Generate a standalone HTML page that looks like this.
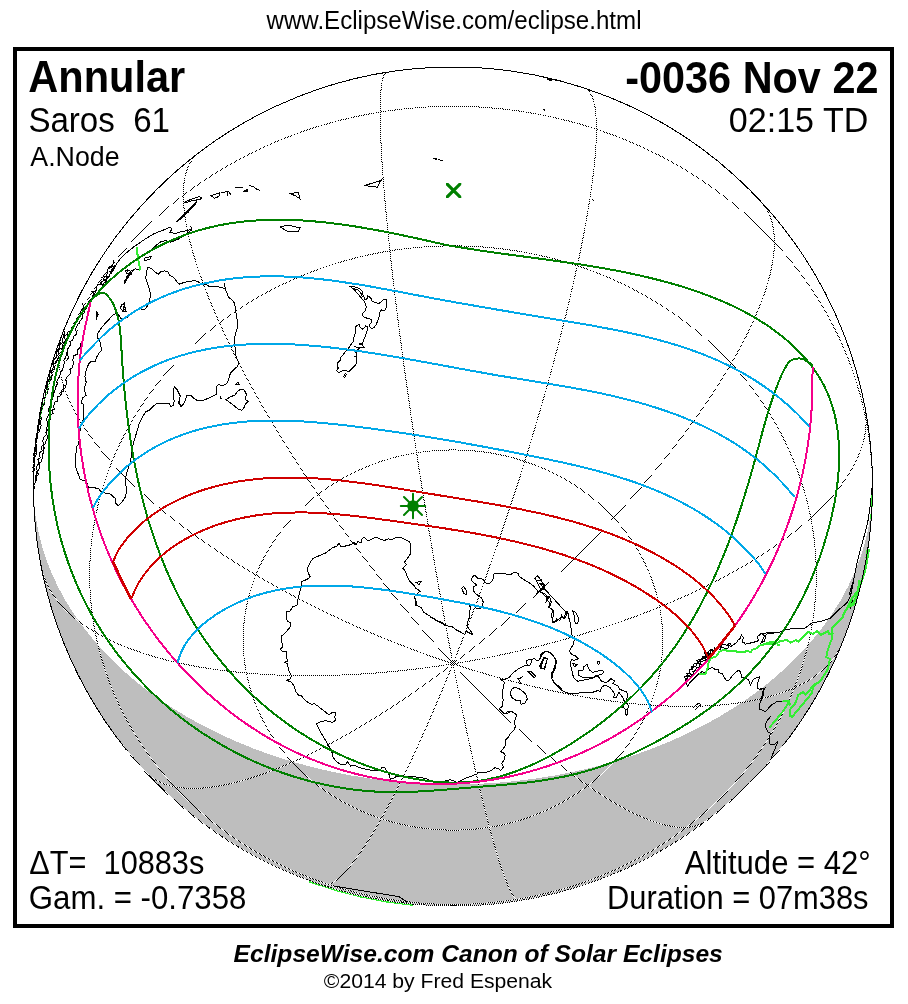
<!DOCTYPE html>
<html><head><meta charset="utf-8"><title>Annular Solar Eclipse -0036 Nov 22</title>
<style>html,body{margin:0;padding:0;background:#fff}body{width:908px;height:1004px;overflow:hidden;font-family:"Liberation Sans",sans-serif}svg{display:block}</style>
</head><body>
<svg width="908" height="1004" viewBox="0 0 908 1004">
<rect x="0" y="0" width="908" height="1004" fill="#fff"/>
<path d="M33.5 486.5 A419.5 419.5 0 0 0 872.5 486.5 A419.5 298.0 0 0 1 33.5 486.5 Z" fill="#bebebe" shape-rendering="crispEdges"/>
<defs><pattern id="chk" width="2" height="2" patternUnits="userSpaceOnUse"><rect x="0" y="0" width="1" height="1" fill="#fff"/><rect x="1" y="1" width="1" height="1" fill="#fff"/></pattern><mask id="m" maskUnits="userSpaceOnUse" x="0" y="0" width="908" height="1004"><rect x="0" y="0" width="908" height="1004" fill="url(#chk)"/></mask></defs>
<g fill="none" stroke="#fff" stroke-width="1" shape-rendering="crispEdges"><path d="M453.0 663.8 L451.7 657.2 L450.5 650.6 L449.2 643.9 L447.9 637.2 L446.7 630.5 L445.4 623.7 L444.1 616.8 L442.9 610.0 L441.6 603.0 L440.4 596.1 L439.1 589.1 L437.9 582.1 L436.6 575.0 L435.4 567.9 L434.1 560.8 L432.9 553.7 L431.7 546.6 L430.5 539.4 L429.3 532.2 L428.1 525.0 L426.9 517.8 L425.7 510.6 L424.5 503.4 L423.4 496.2 L422.2 488.9 L421.1 481.7 L419.9 474.5 L418.8 467.3 L417.7 460.0 L416.6 452.8 L415.5 445.6 L414.4 438.4 L413.3 431.3 L412.3 424.1 L411.2 417.0 L410.2 409.9 L409.2 402.8 L408.2 395.7 L407.2 388.6 L406.2 381.6 L405.2 374.7 L404.3 367.7 L403.3 360.8 L402.4 353.9 L401.5 347.1 L400.6 340.3 L399.7 333.6 L398.9 326.9 L398.0 320.2 L397.2 313.6 L396.4 307.1 L395.6 300.6 L394.8 294.2 L394.1 287.8 L393.3 281.5 L392.6 275.2 L391.9 269.0 L391.2 262.9 L390.6 256.9 L389.9 250.9 L389.3 245.0 L388.7 239.1 L388.1 233.4 L387.5 227.7 L387.0 222.1 L386.5 216.6 L385.9 211.1 L385.5 205.8 L385.0 200.5 L384.5 195.3 L384.1 190.2 L383.7 185.2 L383.3 180.3 L383.0 175.5 L382.6 170.7 L382.3 166.1 L382.0 161.6 L381.7 157.1 L381.5 152.8 L381.3 148.6 L381.1 144.4 L380.9 140.4 L380.7 136.5 L380.6 132.7 L380.4 129.0 L380.3 125.4 L380.3 121.9 L380.2 118.5 L380.2 115.2 L380.2 112.1 L380.2 109.0 L380.2 106.1 L380.3 103.3 L380.3 100.6 L380.4 98.1 L380.6 95.6 L380.7 93.3 L380.9 91.0 L381.1 89.0 L381.3 87.0 L381.5 85.1 L381.7 83.4 L382.0 81.8 L382.3 80.3 L382.6 79.0 L383.0 77.7 L383.3 76.6 L383.7 75.6 L384.1 74.8 L384.5 74.0 L385.0 73.4 L385.5 72.9 L385.9 72.6 L386.5 72.3"/><path d="M453.0 663.8 L455.5 657.5 L458.0 651.2 L460.5 644.8 L463.0 638.4 L465.5 632.0 L468.0 625.5 L470.5 618.9 L473.0 612.3 L475.4 605.7 L477.9 599.1 L480.4 592.4 L482.8 585.6 L485.3 578.9 L487.7 572.1 L490.1 565.3 L492.5 558.4 L494.9 551.6 L497.3 544.7 L499.7 537.8 L502.1 530.9 L504.4 524.0 L506.7 517.0 L509.1 510.1 L511.4 503.1 L513.6 496.2 L515.9 489.2 L518.1 482.3 L520.4 475.3 L522.6 468.4 L524.7 461.4 L526.9 454.5 L529.0 447.5 L531.1 440.6 L533.2 433.7 L535.3 426.8 L537.3 419.9 L539.3 413.1 L541.3 406.2 L543.3 399.4 L545.2 392.7 L547.1 385.9 L549.0 379.2 L550.9 372.5 L552.7 365.9 L554.5 359.2 L556.2 352.7 L557.9 346.1 L559.6 339.6 L561.3 333.2 L562.9 326.8 L564.5 320.4 L566.1 314.1 L567.6 307.9 L569.1 301.7 L570.5 295.5 L571.9 289.5 L573.3 283.4 L574.7 277.5 L576.0 271.6 L577.3 265.7 L578.5 260.0 L579.7 254.3 L580.8 248.7 L582.0 243.1 L583.0 237.6 L584.1 232.2 L585.1 226.9 L586.0 221.7 L586.9 216.5 L587.8 211.4 L588.7 206.4 L589.5 201.5 L590.2 196.7 L590.9 191.9 L591.6 187.3 L592.2 182.7 L592.8 178.3 L593.3 173.9 L593.8 169.6 L594.3 165.4 L594.7 161.4 L595.1 157.4 L595.4 153.5 L595.7 149.7 L595.9 146.0 L596.1 142.5 L596.3 139.0 L596.4 135.6 L596.5 132.4 L596.5 129.2 L596.5 126.2 L596.4 123.3 L596.3 120.4 L596.1 117.7 L595.9 115.1 L595.7 112.7 L595.4 110.3 L595.1 108.0 L594.7 105.9 L594.3 103.9 L593.8 102.0 L593.3 100.2 L592.8 98.5 L592.2 97.0 L591.6 95.5 L590.9 94.2 L590.2 93.0 L589.5 91.9 L588.7 91.0 L587.8 90.1 L586.9 89.4 L586.0 88.8 L585.1 88.4"/><path d="M453.0 663.8 L458.6 659.5 L464.2 655.2 L469.8 650.8 L475.4 646.3 L481.0 641.8 L486.6 637.3 L492.2 632.7 L497.7 628.1 L503.3 623.4 L508.8 618.7 L514.3 613.9 L519.8 609.1 L525.3 604.3 L530.7 599.4 L536.2 594.5 L541.6 589.6 L547.0 584.6 L552.3 579.6 L557.6 574.6 L562.9 569.5 L568.2 564.4 L573.4 559.3 L578.6 554.2 L583.7 549.1 L588.8 543.9 L593.9 538.7 L598.9 533.5 L603.9 528.3 L608.8 523.1 L613.7 517.8 L618.5 512.6 L623.3 507.3 L628.0 502.1 L632.7 496.8 L637.3 491.6 L641.9 486.3 L646.4 481.0 L650.8 475.7 L655.2 470.5 L659.6 465.2 L663.8 460.0 L668.0 454.7 L672.2 449.5 L676.2 444.3 L680.2 439.1 L684.2 433.9 L688.0 428.7 L691.8 423.5 L695.5 418.4 L699.2 413.2 L702.7 408.1 L706.2 403.1 L709.6 398.0 L713.0 393.0 L716.2 388.0 L719.4 383.0 L722.5 378.1 L725.5 373.2 L728.5 368.3 L731.3 363.5 L734.1 358.7 L736.7 354.0 L739.3 349.2 L741.8 344.6 L744.2 339.9 L746.6 335.4 L748.8 330.8 L751.0 326.3 L753.0 321.9 L755.0 317.5 L756.8 313.1 L758.6 308.9 L760.3 304.6 L761.9 300.4 L763.4 296.3 L764.8 292.3 L766.1 288.3 L767.3 284.3 L768.5 280.4 L769.5 276.6 L770.4 272.9 L771.2 269.2 L772.0 265.5 L772.6 262.0 L773.1 258.5 L773.6 255.1 L773.9 251.7 L774.2 248.5 L774.3 245.2 L774.4 242.1 L774.3 239.1 L774.2 236.1 L773.9 233.2 L773.6 230.3 L773.1 227.6 L772.6 224.9 L772.0 222.3 L771.2 219.8 L770.4 217.4 L769.5 215.0 L768.5 212.8 L767.3 210.6 L766.1 208.5 L764.8 206.5 L763.4 204.6 L761.9 202.7"/><path d="M453.0 663.8 L460.2 662.6 L467.4 661.4 L474.6 660.1 L481.8 658.8 L489.0 657.4 L496.2 655.9 L503.3 654.4 L510.5 652.9 L517.6 651.3 L524.7 649.6 L531.8 647.9 L538.9 646.2 L545.9 644.4 L552.9 642.6 L559.9 640.7 L566.9 638.7 L573.8 636.7 L580.7 634.7 L587.5 632.6 L594.3 630.5 L601.1 628.4 L607.8 626.1 L614.4 623.9 L621.0 621.6 L627.6 619.3 L634.1 616.9 L640.6 614.5 L647.0 612.0 L653.3 609.6 L659.6 607.0 L665.8 604.5 L671.9 601.9 L678.0 599.2 L684.0 596.6 L690.0 593.9 L695.8 591.1 L701.6 588.4 L707.3 585.6 L713.0 582.7 L718.6 579.9 L724.0 577.0 L729.4 574.1 L734.8 571.1 L740.0 568.2 L745.1 565.2 L750.2 562.2 L755.1 559.1 L760.0 556.1 L764.8 553.0 L769.5 549.9 L774.1 546.8 L778.5 543.6 L782.9 540.5 L787.2 537.3 L791.4 534.1 L795.5 530.9 L799.5 527.7 L803.4 524.5 L807.1 521.2 L810.8 518.0 L814.3 514.7 L817.8 511.4 L821.1 508.2 L824.3 504.9 L827.4 501.6 L830.4 498.3 L833.3 495.0 L836.0 491.7 L838.7 488.4 L841.2 485.1 L843.6 481.8 L845.9 478.5 L848.1 475.2 L850.1 471.9 L852.0 468.6 L853.9 465.3 L855.5 462.1 L857.1 458.8 L858.5 455.5 L859.9 452.3 L861.0 449.0 L862.1 445.8 L863.0 442.6 L863.9 439.4 L864.6 436.2 L865.1 433.0 L865.6 429.8 L865.9 426.7 L866.1 423.6 L866.1 420.5 L866.1 417.4 L865.9 414.3 L865.6 411.3 L865.1 408.3"/><path d="M453.0 663.8 L459.9 666.0 L466.8 668.2 L473.6 670.4 L480.5 672.4 L487.4 674.4 L494.2 676.4 L501.0 678.3 L507.9 680.2 L514.7 681.9 L521.5 683.7 L528.2 685.3 L535.0 686.9 L541.7 688.5 L548.4 690.0 L555.0 691.4 L561.7 692.8 L568.3 694.1 L574.8 695.3 L581.3 696.5 L587.8 697.6 L594.3 698.6 L600.7 699.6 L607.0 700.5 L613.3 701.4 L619.6 702.1 L625.8 702.8 L632.0 703.5 L638.1 704.1 L644.1 704.6 L650.1 705.1 L656.0 705.4 L661.9 705.8 L667.7 706.0 L673.4 706.2 L679.1 706.3 L684.7 706.4 L690.2 706.3 L695.7 706.3 L701.1 706.1 L706.4 705.9 L711.6 705.6 L716.8 705.3 L721.8 704.8 L726.8 704.4 L731.7 703.8 L736.6 703.2 L741.3 702.5 L745.9 701.8 L750.5 701.0 L755.0 700.1 L759.4 699.1 L763.6 698.1 L767.8 697.0 L771.9 695.9 L775.9 694.7 L779.8 693.4 L783.6 692.1 L787.3 690.7 L790.9 689.3 L794.4 687.8 L797.8 686.2 L801.1 684.5 L804.2 682.8 L807.3 681.1 L810.3 679.3 L813.1 677.4 L815.9 675.5 L818.5 673.5 L821.0 671.4 L823.4 669.3 L825.7 667.2 L827.9 665.0 L830.0 662.7 L831.9 660.4 L833.8 658.0 L835.5 655.6 L837.1 653.1 L838.6 650.6 L840.0 648.0 L841.2 645.3"/><path d="M453.0 663.8 L457.7 668.8 L462.4 673.8 L467.1 678.8 L471.8 683.7 L476.5 688.5 L481.2 693.3 L485.9 698.0 L490.5 702.6 L495.2 707.2 L499.8 711.7 L504.5 716.1 L509.1 720.5 L513.7 724.8 L518.2 729.0 L522.8 733.1 L527.3 737.2 L531.8 741.2 L536.3 745.1 L540.8 749.0 L545.2 752.7 L549.6 756.4 L554.0 760.0 L558.4 763.5 L562.7 766.9 L567.0 770.3 L571.2 773.5 L575.4 776.7 L579.6 779.8 L583.7 782.8 L587.8 785.7 L591.9 788.5 L595.9 791.2 L599.9 793.8 L603.8 796.3 L607.7 798.8 L611.5 801.1 L615.3 803.4 L619.0 805.5 L622.7 807.6 L626.3 809.5 L629.9 811.4 L633.4 813.1 L636.9 814.8 L640.3 816.3 L643.7 817.8 L647.0 819.2 L650.2 820.4 L653.4 821.6 L656.5 822.6 L659.6 823.6 L662.6 824.4 L665.5 825.2 L668.4 825.8 L671.2 826.3 L673.9 826.8 L676.5 827.1 L679.1 827.3 L681.7 827.4 L684.1 827.5 L686.5 827.4 L688.8 827.2 L691.1 826.9 L693.3 826.5 L695.4 826.0 L697.4 825.4 L699.3 824.7 L701.2 823.9 L703.0 823.0 L704.7 821.9 L706.4 820.8"/><path d="M453.0 663.8 L454.3 670.3 L455.5 676.7 L456.8 683.1 L458.1 689.5 L459.3 695.7 L460.6 702.0 L461.9 708.1 L463.1 714.2 L464.4 720.2 L465.6 726.1 L466.9 732.0 L468.1 737.8 L469.4 743.5 L470.6 749.1 L471.9 754.7 L473.1 760.1 L474.3 765.5 L475.5 770.8 L476.7 776.0 L477.9 781.2 L479.1 786.2 L480.3 791.1 L481.5 796.0 L482.6 800.8 L483.8 805.4 L484.9 810.0 L486.1 814.4 L487.2 818.8 L488.3 823.1 L489.4 827.2 L490.5 831.3 L491.6 835.3 L492.7 839.1 L493.7 842.9 L494.8 846.5 L495.8 850.0 L496.8 853.4 L497.8 856.7 L498.8 859.9 L499.8 863.0 L500.8 865.9 L501.7 868.8 L502.7 871.5 L503.6 874.1 L504.5 876.6 L505.4 879.0 L506.3 881.2 L507.1 883.4 L508.0 885.4 L508.8 887.3 L509.6 889.1 L510.4 890.7 L511.2 892.2 L511.9 893.6 L512.7 894.9 L513.4 896.0 L514.1 897.1 L514.8 898.0 L515.4 898.8 L516.1 899.4 L516.7 899.9 L517.3 900.3 L517.9 900.6 L518.5 900.7 L519.0 900.8"/><path d="M453.0 663.8 L450.5 670.0 L448.0 676.1 L445.5 682.2 L443.0 688.3 L440.5 694.3 L438.0 700.2 L435.5 706.0 L433.0 711.8 L430.6 717.5 L428.1 723.1 L425.6 728.7 L423.2 734.2 L420.7 739.6 L418.3 745.0 L415.9 750.2 L413.5 755.4 L411.1 760.5 L408.7 765.5 L406.3 770.4 L403.9 775.3 L401.6 780.0 L399.3 784.7 L396.9 789.3 L394.6 793.8 L392.4 798.2 L390.1 802.5 L387.9 806.7 L385.6 810.8 L383.4 814.8 L381.3 818.7 L379.1 822.5 L377.0 826.2 L374.9 829.8 L372.8 833.3 L370.7 836.6 L368.7 839.9 L366.7 843.1 L364.7 846.2 L362.7 849.1 L360.8 852.0 L358.9 854.7 L357.0 857.3 L355.1 859.8 L353.3 862.2 L351.5 864.5 L349.8 866.7 L348.1 868.7 L346.4 870.6 L344.7 872.4 L343.1 874.1 L341.5 875.7 L339.9 877.2 L338.4 878.5 L336.9 879.7 L335.5 880.8 L334.1 881.8 L332.7 882.7 L331.3 883.4 L330.0 884.0 L328.7 884.5 L327.5 884.9 L326.3 885.2 L325.2 885.3 L324.0 885.3 L323.0 885.2 L321.9 885.0"/><path d="M453.0 663.8 L447.4 668.0 L441.8 672.2 L436.2 676.3 L430.6 680.4 L425.0 684.4 L419.4 688.4 L413.8 692.2 L408.3 696.1 L402.7 699.8 L397.2 703.5 L391.7 707.2 L386.2 710.7 L380.7 714.2 L375.3 717.6 L369.8 721.0 L364.4 724.3 L359.0 727.5 L353.7 730.6 L348.4 733.7 L343.1 736.7 L337.8 739.6 L332.6 742.4 L327.4 745.2 L322.3 747.9 L317.2 750.5 L312.1 753.0 L307.1 755.4 L302.1 757.8 L297.2 760.0 L292.3 762.2 L287.5 764.3 L282.7 766.4 L278.0 768.3 L273.3 770.1 L268.7 771.9 L264.1 773.6 L259.6 775.2 L255.2 776.7 L250.8 778.1 L246.4 779.4 L242.2 780.6 L238.0 781.8 L233.8 782.8 L229.8 783.8 L225.8 784.7 L221.8 785.5 L218.0 786.1 L214.2 786.7 L210.5 787.3 L206.8 787.7 L203.3 788.0 L199.8 788.2 L196.4 788.4 L193.0 788.4 L189.8 788.4 L186.6 788.2 L183.5 788.0 L180.5 787.7 L177.5 787.3 L174.7 786.8 L171.9 786.2 L169.3 785.5 L166.7 784.7 L164.2 783.9 L161.8 782.9 L159.4 781.9 L157.2 780.7 L155.0 779.5 L153.0 778.2 L151.0 776.8 L149.2 775.3 L147.4 773.7 L145.7 772.0"/><path d="M453.0 663.8 L445.8 664.9 L438.6 666.0 L431.4 667.0 L424.2 668.0 L417.0 668.9 L409.8 669.7 L402.7 670.5 L395.5 671.3 L388.4 671.9 L381.3 672.6 L374.2 673.1 L367.1 673.6 L360.1 674.1 L353.1 674.5 L346.1 674.8 L339.1 675.1 L332.2 675.3 L325.3 675.5 L318.5 675.6 L311.7 675.7 L304.9 675.7 L298.2 675.6 L291.6 675.5 L285.0 675.3 L278.4 675.1 L271.9 674.8 L265.4 674.4 L259.0 674.0 L252.7 673.6 L246.4 673.0 L240.2 672.5 L234.1 671.8 L228.0 671.1 L222.0 670.4 L216.0 669.6 L210.2 668.7 L204.4 667.8 L198.7 666.9 L193.0 665.8 L187.4 664.7 L182.0 663.6 L176.6 662.4 L171.2 661.2 L166.0 659.9 L160.9 658.5 L155.8 657.1 L150.9 655.7 L146.0 654.2 L141.2 652.6 L136.5 651.0 L131.9 649.4 L127.5 647.7 L123.1 645.9 L118.8 644.1 L114.6 642.3 L110.5 640.4 L106.5 638.4 L102.6 636.4 L98.9 634.4 L95.2 632.3 L91.7 630.2 L88.2 628.0 L84.9 625.8 L81.7 623.6 L78.6 621.3 L75.6 618.9 L72.7 616.5 L70.0 614.1 L67.3 611.7 L64.8 609.2 L62.4 606.6 L60.1 604.1 L57.9 601.5 L55.9 598.8 L54.0 596.2 L52.1 593.4 L50.5 590.7 L48.9 587.9 L47.5 585.1 L46.1 582.3 L45.0 579.4 L43.9 576.6 L43.0 573.6 L42.1 570.7 L41.4 567.7"/><path d="M453.0 663.8 L446.1 661.5 L439.2 659.1 L432.4 656.7 L425.5 654.3 L418.6 651.8 L411.8 649.2 L405.0 646.6 L398.1 644.0 L391.3 641.3 L384.5 638.5 L377.8 635.7 L371.0 632.9 L364.3 630.0 L357.6 627.1 L351.0 624.1 L344.3 621.1 L337.7 618.0 L331.2 614.9 L324.7 611.8 L318.2 608.6 L311.7 605.4 L305.3 602.2 L299.0 598.9 L292.7 595.6 L286.4 592.2 L280.2 588.8 L274.0 585.4 L267.9 582.0 L261.9 578.5 L255.9 575.0 L250.0 571.5 L244.1 567.9 L238.3 564.4 L232.6 560.8 L226.9 557.1 L221.3 553.5 L215.8 549.8 L210.3 546.1 L204.9 542.4 L199.6 538.7 L194.4 535.0 L189.2 531.2 L184.2 527.5 L179.2 523.7 L174.3 519.9 L169.4 516.1 L164.7 512.3 L160.1 508.5 L155.5 504.7 L151.0 500.8 L146.6 497.0 L142.4 493.2 L138.2 489.3 L134.1 485.5 L130.1 481.7 L126.2 477.8 L122.4 474.0 L118.7 470.2 L115.1 466.3 L111.6 462.5 L108.2 458.7 L104.9 454.9 L101.8 451.1 L98.7 447.3 L95.7 443.6 L92.9 439.8 L90.1 436.1 L87.5 432.3 L85.0 428.6 L82.6 424.9 L80.3 421.3 L78.1 417.6 L76.0 414.0 L74.1 410.4 L72.2 406.8 L70.5 403.2 L68.9 399.7 L67.4 396.2 L66.0 392.7 L64.8 389.2 L63.7 385.8 L62.6 382.4 L61.7 379.0 L61.0 375.7 L60.3 372.4 L59.8 369.1 L59.3 365.9 L59.0 362.7 L58.9 359.6 L58.8 356.5 L58.9 353.4 L59.0 350.4 L59.3 347.4 L59.8 344.4 L60.3 341.5 L61.0 338.6 L61.7 335.8 L62.6 333.1 L63.7 330.3"/><path d="M453.0 663.8 L448.3 658.7 L443.6 653.5 L438.9 648.3 L434.2 643.0 L429.5 637.7 L424.8 632.4 L420.1 627.0 L415.5 621.5 L410.8 616.0 L406.2 610.5 L401.5 605.0 L396.9 599.4 L392.3 593.7 L387.8 588.1 L383.2 582.4 L378.7 576.6 L374.2 570.9 L369.7 565.1 L365.2 559.3 L360.8 553.5 L356.4 547.6 L352.0 541.8 L347.6 535.9 L343.3 530.0 L339.0 524.1 L334.8 518.2 L330.6 512.2 L326.4 506.3 L322.3 500.4 L318.2 494.4 L314.1 488.5 L310.1 482.5 L306.1 476.6 L302.2 470.6 L298.3 464.7 L294.5 458.7 L290.7 452.8 L287.0 446.9 L283.3 441.0 L279.7 435.1 L276.1 429.2 L272.6 423.4 L269.1 417.5 L265.7 411.7 L262.3 405.9 L259.0 400.1 L255.8 394.4 L252.6 388.7 L249.5 383.0 L246.4 377.4 L243.4 371.7 L240.5 366.1 L237.6 360.6 L234.8 355.1 L232.1 349.6 L229.5 344.2 L226.9 338.8 L224.3 333.5 L221.9 328.2 L219.5 322.9 L217.2 317.7 L214.9 312.6 L212.7 307.5 L210.6 302.4 L208.6 297.5 L206.7 292.5 L204.8 287.7 L203.0 282.9 L201.3 278.1 L199.6 273.5 L198.0 268.8 L196.5 264.3 L195.1 259.8 L193.8 255.4 L192.5 251.1 L191.4 246.8 L190.3 242.6 L189.2 238.5 L188.3 234.4 L187.4 230.5 L186.7 226.6 L186.0 222.8 L185.4 219.0 L184.8 215.4 L184.4 211.8 L184.0 208.3 L183.7 204.9 L183.5 201.6 L183.4 198.4 L183.4 195.3 L183.4 192.2 L183.5 189.2 L183.7 186.4 L184.0 183.6 L184.4 180.9 L184.8 178.3 L185.4 175.8 L186.0 173.4 L186.7 171.1 L187.4 168.9 L188.3 166.8 L189.2 164.8 L190.3 162.8 L191.4 161.0 L192.5 159.3 L193.8 157.7 L195.1 156.1 L196.5 154.7 L198.0 153.4"/><path d="M33.5 486.5 L33.6 479.9 L33.8 473.2 L34.1 466.6 L34.5 460.0 L35.1 453.4 L35.8 446.8 L36.6 440.2 L37.6 433.6 L38.7 427.0 L39.9 420.5 L41.2 414.0 L42.7 407.5 L44.3 401.0 L46.0 394.5 L47.8 388.1 L49.8 381.7 L51.8 375.3 L54.0 369.0 L56.4 362.7 L58.8 356.5 L61.4 350.2 L64.0 344.1 L66.8 337.9 L69.8 331.9 L72.8 325.8 L76.0 319.8 L79.2 313.9 L82.6 308.0 L86.1 302.2 L89.7 296.4 L93.4 290.7 L97.2 285.0 L101.2 279.4 L105.2 273.9 L109.4 268.4 L113.6 263.0 L118.0 257.7 L122.4 252.4 L127.0 247.2 L131.6 242.1 L136.4 237.1 L141.3 232.1 L146.2 227.2 L151.2 222.4 L156.4 217.7 L161.6 213.0 L166.9 208.4 L172.3 204.0 L177.8 199.6 L183.4 195.3 L189.0 191.0 L194.7 186.9 L200.5 182.9 L206.4 178.9 L212.4 175.1 L218.4 171.3 L224.5 167.6 L230.7 164.1 L236.9 160.6 L243.3 157.2 L249.6 154.0 L256.1 150.8 L262.6 147.7 L269.1 144.8 L275.7 141.9 L282.4 139.2 L289.1 136.5 L295.9 134.0 L302.7 131.6 L309.5 129.2 L316.4 127.0 L323.4 124.9 L330.4 122.9 L337.4 121.0 L344.4 119.3 L351.5 117.6 L358.6 116.0 L365.8 114.6 L373.0 113.3 L380.2 112.1 L387.4 111.0 L394.6 110.0 L401.9 109.1 L409.2 108.4 L416.4 107.8 L423.7 107.2 L431.0 106.8 L438.4 106.5 L445.7 106.4 L453.0 106.3 L460.3 106.4 L467.6 106.5 L475.0 106.8 L482.3 107.2 L489.6 107.8 L496.8 108.4 L504.1 109.1 L511.4 110.0 L518.6 111.0 L525.8 112.1 L533.0 113.3 L540.2 114.6 L547.4 116.0 L554.5 117.6 L561.6 119.3 L568.6 121.0 L575.6 122.9 L582.6 124.9 L589.6 127.0 L596.5 129.2 L603.3 131.6 L610.1 134.0 L616.9 136.5 L623.6 139.2 L630.3 141.9 L636.9 144.8 L643.4 147.7 L649.9 150.8 L656.4 154.0 L662.8 157.2 L669.1 160.6 L675.3 164.1 L681.5 167.6 L687.6 171.3 L693.6 175.1 L699.6 178.9 L705.5 182.9 L711.3 186.9 L717.0 191.0 L722.6 195.3 L728.2 199.6 L733.7 204.0 L739.1 208.4 L744.4 213.0 L749.6 217.7 L754.8 222.4 L759.8 227.2 L764.7 232.1 L769.6 237.1 L774.4 242.1 L779.0 247.2 L783.6 252.4 L788.0 257.7 L792.4 263.0 L796.6 268.4 L800.8 273.9 L804.8 279.4 L808.8 285.0 L812.6 290.7 L816.3 296.4 L819.9 302.2 L823.4 308.0 L826.8 313.9 L830.0 319.8 L833.2 325.8 L836.2 331.9 L839.2 337.9 L842.0 344.1 L844.6 350.2 L847.2 356.5 L849.6 362.7 L852.0 369.0 L854.2 375.3 L856.2 381.7 L858.2 388.1 L860.0 394.5 L861.7 401.0 L863.3 407.5 L864.8 414.0 L866.1 420.5 L867.3 427.0 L868.4 433.6 L869.4 440.2 L870.2 446.8 L870.9 453.4 L871.5 460.0 L871.9 466.6 L872.2 473.2 L872.4 479.9 L872.5 486.5"/><path d="M453.0 904.4 L446.7 904.4 L440.3 904.2 L434.0 904.0 L427.7 903.6 L421.3 903.2 L415.0 902.6 L408.7 901.9 L402.4 901.2 L396.2 900.3 L389.9 899.4 L383.7 898.4 L377.5 897.2 L371.3 896.0 L365.1 894.6 L359.0 893.2 L352.9 891.6 L346.8 890.0 L340.7 888.3 L334.7 886.5 L328.7 884.5 L322.8 882.5 L316.9 880.4 L311.0 878.2 L305.2 875.9 L299.5 873.6 L293.7 871.1 L288.1 868.5 L282.4 865.9 L276.9 863.1 L271.4 860.3 L265.9 857.4 L260.5 854.4 L255.1 851.3 L249.8 848.1 L244.6 844.9 L239.5 841.5 L234.4 838.1 L229.3 834.6 L224.4 831.0 L219.5 827.4 L214.7 823.6 L209.9 819.8 L205.2 815.9 L200.6 812.0 L196.1 808.0 L191.7 803.9 L187.3 799.7 L183.0 795.5 L178.8 791.2 L174.7 786.8 L170.7 782.4 L166.7 777.9 L162.9 773.3 L159.1 768.7 L155.4 764.0 L151.8 759.3 L148.3 754.5 L144.9 749.6 L141.6 744.7 L138.4 739.8 L135.3 734.8 L132.2 729.7 L129.3 724.6 L126.5 719.5 L123.7 714.3 L121.1 709.1 L118.6 703.8 L116.2 698.5 L113.8 693.1 L111.6 687.8 L109.5 682.3 L107.5 676.9 L105.6 671.4 L103.8 665.9 L102.1 660.4 L100.5 654.8 L99.0 649.2 L97.6 643.6 L96.4 638.0 L95.2 632.3 L94.2 626.7 L93.2 621.0 L92.4 615.3 L91.7 609.6 L91.1 603.8 L90.6 598.1 L90.2 592.4 L89.9 586.6 L89.8 580.9 L89.7 575.1 L89.8 569.4 L89.9 563.7 L90.2 557.9 L90.6 552.2 L91.1 546.4 L91.7 540.7 L92.4 535.0 L93.2 529.3 L94.2 523.6 L95.2 518.0 L96.4 512.3 L97.6 506.7 L99.0 501.1 L100.5 495.5 L102.1 489.9 L103.8 484.4 L105.6 478.9 L107.5 473.4 L109.5 467.9 L111.6 462.5 L113.8 457.1 L116.2 451.8 L118.6 446.5 L121.1 441.2 L123.7 436.0 L126.5 430.8 L129.3 425.7 L132.2 420.6 L135.3 415.5 L138.4 410.5 L141.6 405.6 L144.9 400.7 L148.3 395.8 L151.8 391.0 L155.4 386.3 L159.1 381.6 L162.9 377.0 L166.7 372.4 L170.7 367.9 L174.7 363.5 L178.8 359.1 L183.0 354.8 L187.3 350.6 L191.7 346.4 L196.1 342.3 L200.6 338.3 L205.2 334.3 L209.9 330.5 L214.7 326.6 L219.5 322.9 L224.4 319.3 L229.3 315.7 L234.4 312.2 L239.5 308.8 L244.6 305.4 L249.8 302.2 L255.1 299.0 L260.5 295.9 L265.9 292.9 L271.4 290.0 L276.9 287.2 L282.4 284.4 L288.1 281.8 L293.7 279.2 L299.5 276.7 L305.2 274.4 L311.0 272.1 L316.9 269.9 L322.8 267.8 L328.7 265.7 L334.7 263.8 L340.7 262.0 L346.8 260.3 L352.9 258.6 L359.0 257.1 L365.1 255.7 L371.3 254.3 L377.5 253.1 L383.7 251.9 L389.9 250.9 L396.2 249.9 L402.4 249.1 L408.7 248.3 L415.0 247.7 L421.3 247.1 L427.7 246.7 L434.0 246.3 L440.3 246.1 L446.7 245.9 L453.0 245.9 L459.3 245.9 L465.7 246.1 L472.0 246.3 L478.3 246.7 L484.7 247.1 L491.0 247.7 L497.3 248.3 L503.6 249.1 L509.8 249.9 L516.1 250.9 L522.3 251.9 L528.5 253.1 L534.7 254.3 L540.9 255.7 L547.0 257.1 L553.1 258.6 L559.2 260.3 L565.3 262.0 L571.3 263.8 L577.3 265.7 L583.2 267.8 L589.1 269.9 L595.0 272.1 L600.8 274.4 L606.5 276.7 L612.3 279.2 L617.9 281.8 L623.6 284.4 L629.1 287.2 L634.6 290.0 L640.1 292.9 L645.5 295.9 L650.9 299.0 L656.2 302.2 L661.4 305.4 L666.5 308.8 L671.6 312.2 L676.7 315.7 L681.6 319.3 L686.5 322.9 L691.3 326.6 L696.1 330.5 L700.8 334.3 L705.4 338.3 L709.9 342.3 L714.3 346.4 L718.7 350.6 L723.0 354.8 L727.2 359.1 L731.3 363.5 L735.3 367.9 L739.3 372.4 L743.1 377.0 L746.9 381.6 L750.6 386.3 L754.2 391.0 L757.7 395.8 L761.1 400.7 L764.4 405.6 L767.6 410.5 L770.7 415.5 L773.8 420.6 L776.7 425.7 L779.5 430.8 L782.3 436.0 L784.9 441.2 L787.4 446.5 L789.8 451.8 L792.2 457.1 L794.4 462.5 L796.5 467.9 L798.5 473.4 L800.4 478.9 L802.2 484.4 L803.9 489.9 L805.5 495.5 L807.0 501.1 L808.4 506.7 L809.6 512.3 L810.8 518.0 L811.8 523.6 L812.8 529.3 L813.6 535.0 L814.3 540.7 L814.9 546.4 L815.4 552.2 L815.8 557.9 L816.1 563.7 L816.2 569.4 L816.3 575.1 L816.2 580.9 L816.1 586.6 L815.8 592.4 L815.4 598.1 L814.9 603.8 L814.3 609.6 L813.6 615.3 L812.8 621.0 L811.8 626.7 L810.8 632.3 L809.6 638.0 L808.4 643.6 L807.0 649.2 L805.5 654.8 L803.9 660.4 L802.2 665.9 L800.4 671.4 L798.5 676.9 L796.5 682.3 L794.4 687.8 L792.2 693.1 L789.8 698.5 L787.4 703.8 L784.9 709.1 L782.3 714.3 L779.5 719.5 L776.7 724.6 L773.8 729.7 L770.7 734.8 L767.6 739.8 L764.4 744.7 L761.1 749.6 L757.7 754.5 L754.2 759.3 L750.6 764.0 L746.9 768.7 L743.1 773.3 L739.3 777.9 L735.3 782.4 L731.3 786.8 L727.2 791.2 L723.0 795.5 L718.7 799.7 L714.3 803.9 L709.9 808.0 L705.4 812.0 L700.8 815.9 L696.1 819.8 L691.3 823.6 L686.5 827.4 L681.6 831.0 L676.7 834.6 L671.6 838.1 L666.5 841.5 L661.4 844.9 L656.2 848.1 L650.9 851.3 L645.5 854.4 L640.1 857.4 L634.6 860.3 L629.1 863.1 L623.6 865.9 L617.9 868.5 L612.3 871.1 L606.5 873.6 L600.8 875.9 L595.0 878.2 L589.1 880.4 L583.2 882.5 L577.3 884.5 L571.3 886.5 L565.3 888.3 L559.2 890.0 L553.1 891.6 L547.0 893.2 L540.9 894.6 L534.7 896.0 L528.5 897.2 L522.3 898.4 L516.1 899.4 L509.8 900.3 L503.6 901.2 L497.3 901.9 L491.0 902.6 L484.7 903.2 L478.3 903.6 L472.0 904.0 L465.7 904.2 L459.3 904.4 L453.0 904.4"/><path d="M453.0 830.1 L449.3 830.1 L445.7 830.0 L442.0 829.9 L438.4 829.7 L434.7 829.4 L431.1 829.1 L427.4 828.7 L423.8 828.3 L420.2 827.8 L416.6 827.2 L413.0 826.6 L409.4 826.0 L405.8 825.3 L402.3 824.5 L398.7 823.7 L395.2 822.8 L391.7 821.8 L388.2 820.8 L384.7 819.8 L381.3 818.7 L377.8 817.5 L374.4 816.3 L371.0 815.0 L367.7 813.7 L364.4 812.3 L361.1 810.9 L357.8 809.4 L354.5 807.9 L351.3 806.3 L348.1 804.7 L345.0 803.0 L341.8 801.2 L338.8 799.5 L335.7 797.6 L332.7 795.8 L329.7 793.8 L326.8 791.9 L323.9 789.8 L321.0 787.8 L318.2 785.7 L315.4 783.5 L312.6 781.3 L310.0 779.1 L307.3 776.8 L304.7 774.5 L302.1 772.1 L299.6 769.7 L297.1 767.2 L294.7 764.8 L292.3 762.2 L290.0 759.7 L287.7 757.1 L285.5 754.4 L283.3 751.8 L281.2 749.1 L279.1 746.3 L277.1 743.6 L275.1 740.8 L273.2 737.9 L271.4 735.1 L269.5 732.2 L267.8 729.3 L266.1 726.3 L264.5 723.4 L262.9 720.4 L261.4 717.4 L259.9 714.3 L258.5 711.2 L257.2 708.2 L255.9 705.1 L254.7 701.9 L253.5 698.8 L252.4 695.6 L251.4 692.4 L250.4 689.2 L249.5 686.0 L248.6 682.8 L247.8 679.6 L247.1 676.3 L246.4 673.0 L245.8 669.8 L245.3 666.5 L244.8 663.2 L244.4 659.9 L244.0 656.6 L243.8 653.3 L243.5 650.0 L243.4 646.7 L243.3 643.4 L243.2 640.0 L243.3 636.7 L243.4 633.4 L243.5 630.1 L243.8 626.8 L244.0 623.5 L244.4 620.2 L244.8 616.9 L245.3 613.6 L245.8 610.3 L246.4 607.0 L247.1 603.8 L247.8 600.5 L248.6 597.3 L249.5 594.0 L250.4 590.8 L251.4 587.6 L252.4 584.5 L253.5 581.3 L254.7 578.1 L255.9 575.0 L257.2 571.9 L258.5 568.8 L259.9 565.8 L261.4 562.7 L262.9 559.7 L264.5 556.7 L266.1 553.7 L267.8 550.8 L269.5 547.9 L271.4 545.0 L273.2 542.1 L275.1 539.3 L277.1 536.5 L279.1 533.7 L281.2 531.0 L283.3 528.3 L285.5 525.6 L287.7 523.0 L290.0 520.4 L292.3 517.8 L294.7 515.3 L297.1 512.8 L299.6 510.4 L302.1 508.0 L304.7 505.6 L307.3 503.3 L310.0 501.0 L312.6 498.8 L315.4 496.6 L318.2 494.4 L321.0 492.3 L323.9 490.2 L326.8 488.2 L329.7 486.2 L332.7 484.3 L335.7 482.4 L338.8 480.6 L341.8 478.8 L345.0 477.1 L348.1 475.4 L351.3 473.8 L354.5 472.2 L357.8 470.7 L361.1 469.2 L364.4 467.7 L367.7 466.4 L371.0 465.1 L374.4 463.8 L377.8 462.6 L381.3 461.4 L384.7 460.3 L388.2 459.2 L391.7 458.2 L395.2 457.3 L398.7 456.4 L402.3 455.6 L405.8 454.8 L409.4 454.1 L413.0 453.4 L416.6 452.8 L420.2 452.3 L423.8 451.8 L427.4 451.4 L431.1 451.0 L434.7 450.7 L438.4 450.4 L442.0 450.2 L445.7 450.1 L449.3 450.0 L453.0 449.9 L456.7 450.0 L460.3 450.1 L464.0 450.2 L467.6 450.4 L471.3 450.7 L474.9 451.0 L478.6 451.4 L482.2 451.8 L485.8 452.3 L489.4 452.8 L493.0 453.4 L496.6 454.1 L500.2 454.8 L503.7 455.6 L507.3 456.4 L510.8 457.3 L514.3 458.2 L517.8 459.2 L521.3 460.3 L524.7 461.4 L528.2 462.6 L531.6 463.8 L535.0 465.1 L538.3 466.4 L541.6 467.7 L544.9 469.2 L548.2 470.7 L551.5 472.2 L554.7 473.8 L557.9 475.4 L561.0 477.1 L564.2 478.8 L567.2 480.6 L570.3 482.4 L573.3 484.3 L576.3 486.2 L579.2 488.2 L582.1 490.2 L585.0 492.3 L587.8 494.4 L590.6 496.6 L593.4 498.8 L596.0 501.0 L598.7 503.3 L601.3 505.6 L603.9 508.0 L606.4 510.4 L608.9 512.8 L611.3 515.3 L613.7 517.8 L616.0 520.4 L618.3 523.0 L620.5 525.6 L622.7 528.3 L624.8 531.0 L626.9 533.7 L628.9 536.5 L630.9 539.3 L632.8 542.1 L634.6 545.0 L636.5 547.9 L638.2 550.8 L639.9 553.7 L641.5 556.7 L643.1 559.7 L644.6 562.7 L646.1 565.8 L647.5 568.8 L648.8 571.9 L650.1 575.0 L651.3 578.1 L652.5 581.3 L653.6 584.5 L654.6 587.6 L655.6 590.8 L656.5 594.0 L657.4 597.3 L658.2 600.5 L658.9 603.8 L659.6 607.0 L660.2 610.3 L660.7 613.6 L661.2 616.9 L661.6 620.2 L662.0 623.5 L662.2 626.8 L662.5 630.1 L662.6 633.4 L662.7 636.7 L662.8 640.0 L662.7 643.4 L662.6 646.7 L662.5 650.0 L662.2 653.3 L662.0 656.6 L661.6 659.9 L661.2 663.2 L660.7 666.5 L660.2 669.8 L659.6 673.0 L658.9 676.3 L658.2 679.6 L657.4 682.8 L656.5 686.0 L655.6 689.2 L654.6 692.4 L653.6 695.6 L652.5 698.8 L651.3 701.9 L650.1 705.1 L648.8 708.2 L647.5 711.2 L646.1 714.3 L644.6 717.4 L643.1 720.4 L641.5 723.4 L639.9 726.3 L638.2 729.3 L636.5 732.2 L634.6 735.1 L632.8 737.9 L630.9 740.8 L628.9 743.6 L626.9 746.3 L624.8 749.1 L622.7 751.8 L620.5 754.4 L618.3 757.1 L616.0 759.7 L613.7 762.2 L611.3 764.8 L608.9 767.2 L606.4 769.7 L603.9 772.1 L601.3 774.5 L598.7 776.8 L596.0 779.1 L593.4 781.3 L590.6 783.5 L587.8 785.7 L585.0 787.8 L582.1 789.8 L579.2 791.9 L576.3 793.8 L573.3 795.8 L570.3 797.6 L567.2 799.5 L564.2 801.2 L561.0 803.0 L557.9 804.7 L554.7 806.3 L551.5 807.9 L548.2 809.4 L544.9 810.9 L541.6 812.3 L538.3 813.7 L535.0 815.0 L531.6 816.3 L528.2 817.5 L524.7 818.7 L521.3 819.8 L517.8 820.8 L514.3 821.8 L510.8 822.8 L507.3 823.7 L503.7 824.5 L500.2 825.3 L496.6 826.0 L493.0 826.6 L489.4 827.2 L485.8 827.8 L482.2 828.3 L478.6 828.7 L474.9 829.1 L471.3 829.4 L467.6 829.7 L464.0 829.9 L460.3 830.0 L456.7 830.1 L453.0 830.1"/></g>
<g mask="url(#m)"><g fill="none" stroke="#000" stroke-width="1" shape-rendering="crispEdges"><path d="M453.0 663.8 L451.7 657.2 L450.5 650.6 L449.2 643.9 L447.9 637.2 L446.7 630.5 L445.4 623.7 L444.1 616.8 L442.9 610.0 L441.6 603.0 L440.4 596.1 L439.1 589.1 L437.9 582.1 L436.6 575.0 L435.4 567.9 L434.1 560.8 L432.9 553.7 L431.7 546.6 L430.5 539.4 L429.3 532.2 L428.1 525.0 L426.9 517.8 L425.7 510.6 L424.5 503.4 L423.4 496.2 L422.2 488.9 L421.1 481.7 L419.9 474.5 L418.8 467.3 L417.7 460.0 L416.6 452.8 L415.5 445.6 L414.4 438.4 L413.3 431.3 L412.3 424.1 L411.2 417.0 L410.2 409.9 L409.2 402.8 L408.2 395.7 L407.2 388.6 L406.2 381.6 L405.2 374.7 L404.3 367.7 L403.3 360.8 L402.4 353.9 L401.5 347.1 L400.6 340.3 L399.7 333.6 L398.9 326.9 L398.0 320.2 L397.2 313.6 L396.4 307.1 L395.6 300.6 L394.8 294.2 L394.1 287.8 L393.3 281.5 L392.6 275.2 L391.9 269.0 L391.2 262.9 L390.6 256.9 L389.9 250.9 L389.3 245.0 L388.7 239.1 L388.1 233.4 L387.5 227.7 L387.0 222.1 L386.5 216.6 L385.9 211.1 L385.5 205.8 L385.0 200.5 L384.5 195.3 L384.1 190.2 L383.7 185.2 L383.3 180.3 L383.0 175.5 L382.6 170.7 L382.3 166.1 L382.0 161.6 L381.7 157.1 L381.5 152.8 L381.3 148.6 L381.1 144.4 L380.9 140.4 L380.7 136.5 L380.6 132.7 L380.4 129.0 L380.3 125.4 L380.3 121.9 L380.2 118.5 L380.2 115.2 L380.2 112.1 L380.2 109.0 L380.2 106.1 L380.3 103.3 L380.3 100.6 L380.4 98.1 L380.6 95.6 L380.7 93.3 L380.9 91.0 L381.1 89.0 L381.3 87.0 L381.5 85.1 L381.7 83.4 L382.0 81.8 L382.3 80.3 L382.6 79.0 L383.0 77.7 L383.3 76.6 L383.7 75.6 L384.1 74.8 L384.5 74.0 L385.0 73.4 L385.5 72.9 L385.9 72.6 L386.5 72.3"/><path d="M453.0 663.8 L455.5 657.5 L458.0 651.2 L460.5 644.8 L463.0 638.4 L465.5 632.0 L468.0 625.5 L470.5 618.9 L473.0 612.3 L475.4 605.7 L477.9 599.1 L480.4 592.4 L482.8 585.6 L485.3 578.9 L487.7 572.1 L490.1 565.3 L492.5 558.4 L494.9 551.6 L497.3 544.7 L499.7 537.8 L502.1 530.9 L504.4 524.0 L506.7 517.0 L509.1 510.1 L511.4 503.1 L513.6 496.2 L515.9 489.2 L518.1 482.3 L520.4 475.3 L522.6 468.4 L524.7 461.4 L526.9 454.5 L529.0 447.5 L531.1 440.6 L533.2 433.7 L535.3 426.8 L537.3 419.9 L539.3 413.1 L541.3 406.2 L543.3 399.4 L545.2 392.7 L547.1 385.9 L549.0 379.2 L550.9 372.5 L552.7 365.9 L554.5 359.2 L556.2 352.7 L557.9 346.1 L559.6 339.6 L561.3 333.2 L562.9 326.8 L564.5 320.4 L566.1 314.1 L567.6 307.9 L569.1 301.7 L570.5 295.5 L571.9 289.5 L573.3 283.4 L574.7 277.5 L576.0 271.6 L577.3 265.7 L578.5 260.0 L579.7 254.3 L580.8 248.7 L582.0 243.1 L583.0 237.6 L584.1 232.2 L585.1 226.9 L586.0 221.7 L586.9 216.5 L587.8 211.4 L588.7 206.4 L589.5 201.5 L590.2 196.7 L590.9 191.9 L591.6 187.3 L592.2 182.7 L592.8 178.3 L593.3 173.9 L593.8 169.6 L594.3 165.4 L594.7 161.4 L595.1 157.4 L595.4 153.5 L595.7 149.7 L595.9 146.0 L596.1 142.5 L596.3 139.0 L596.4 135.6 L596.5 132.4 L596.5 129.2 L596.5 126.2 L596.4 123.3 L596.3 120.4 L596.1 117.7 L595.9 115.1 L595.7 112.7 L595.4 110.3 L595.1 108.0 L594.7 105.9 L594.3 103.9 L593.8 102.0 L593.3 100.2 L592.8 98.5 L592.2 97.0 L591.6 95.5 L590.9 94.2 L590.2 93.0 L589.5 91.9 L588.7 91.0 L587.8 90.1 L586.9 89.4 L586.0 88.8 L585.1 88.4"/><path d="M453.0 663.8 L458.6 659.5 L464.2 655.2 L469.8 650.8 L475.4 646.3 L481.0 641.8 L486.6 637.3 L492.2 632.7 L497.7 628.1 L503.3 623.4 L508.8 618.7 L514.3 613.9 L519.8 609.1 L525.3 604.3 L530.7 599.4 L536.2 594.5 L541.6 589.6 L547.0 584.6 L552.3 579.6 L557.6 574.6 L562.9 569.5 L568.2 564.4 L573.4 559.3 L578.6 554.2 L583.7 549.1 L588.8 543.9 L593.9 538.7 L598.9 533.5 L603.9 528.3 L608.8 523.1 L613.7 517.8 L618.5 512.6 L623.3 507.3 L628.0 502.1 L632.7 496.8 L637.3 491.6 L641.9 486.3 L646.4 481.0 L650.8 475.7 L655.2 470.5 L659.6 465.2 L663.8 460.0 L668.0 454.7 L672.2 449.5 L676.2 444.3 L680.2 439.1 L684.2 433.9 L688.0 428.7 L691.8 423.5 L695.5 418.4 L699.2 413.2 L702.7 408.1 L706.2 403.1 L709.6 398.0 L713.0 393.0 L716.2 388.0 L719.4 383.0 L722.5 378.1 L725.5 373.2 L728.5 368.3 L731.3 363.5 L734.1 358.7 L736.7 354.0 L739.3 349.2 L741.8 344.6 L744.2 339.9 L746.6 335.4 L748.8 330.8 L751.0 326.3 L753.0 321.9 L755.0 317.5 L756.8 313.1 L758.6 308.9 L760.3 304.6 L761.9 300.4 L763.4 296.3 L764.8 292.3 L766.1 288.3 L767.3 284.3 L768.5 280.4 L769.5 276.6 L770.4 272.9 L771.2 269.2 L772.0 265.5 L772.6 262.0 L773.1 258.5 L773.6 255.1 L773.9 251.7 L774.2 248.5 L774.3 245.2 L774.4 242.1 L774.3 239.1 L774.2 236.1 L773.9 233.2 L773.6 230.3 L773.1 227.6 L772.6 224.9 L772.0 222.3 L771.2 219.8 L770.4 217.4 L769.5 215.0 L768.5 212.8 L767.3 210.6 L766.1 208.5 L764.8 206.5 L763.4 204.6 L761.9 202.7"/><path d="M453.0 663.8 L460.2 662.6 L467.4 661.4 L474.6 660.1 L481.8 658.8 L489.0 657.4 L496.2 655.9 L503.3 654.4 L510.5 652.9 L517.6 651.3 L524.7 649.6 L531.8 647.9 L538.9 646.2 L545.9 644.4 L552.9 642.6 L559.9 640.7 L566.9 638.7 L573.8 636.7 L580.7 634.7 L587.5 632.6 L594.3 630.5 L601.1 628.4 L607.8 626.1 L614.4 623.9 L621.0 621.6 L627.6 619.3 L634.1 616.9 L640.6 614.5 L647.0 612.0 L653.3 609.6 L659.6 607.0 L665.8 604.5 L671.9 601.9 L678.0 599.2 L684.0 596.6 L690.0 593.9 L695.8 591.1 L701.6 588.4 L707.3 585.6 L713.0 582.7 L718.6 579.9 L724.0 577.0 L729.4 574.1 L734.8 571.1 L740.0 568.2 L745.1 565.2 L750.2 562.2 L755.1 559.1 L760.0 556.1 L764.8 553.0 L769.5 549.9 L774.1 546.8 L778.5 543.6 L782.9 540.5 L787.2 537.3 L791.4 534.1 L795.5 530.9 L799.5 527.7 L803.4 524.5 L807.1 521.2 L810.8 518.0 L814.3 514.7 L817.8 511.4 L821.1 508.2 L824.3 504.9 L827.4 501.6 L830.4 498.3 L833.3 495.0 L836.0 491.7 L838.7 488.4 L841.2 485.1 L843.6 481.8 L845.9 478.5 L848.1 475.2 L850.1 471.9 L852.0 468.6 L853.9 465.3 L855.5 462.1 L857.1 458.8 L858.5 455.5 L859.9 452.3 L861.0 449.0 L862.1 445.8 L863.0 442.6 L863.9 439.4 L864.6 436.2 L865.1 433.0 L865.6 429.8 L865.9 426.7 L866.1 423.6 L866.1 420.5 L866.1 417.4 L865.9 414.3 L865.6 411.3 L865.1 408.3"/><path d="M453.0 663.8 L459.9 666.0 L466.8 668.2 L473.6 670.4 L480.5 672.4 L487.4 674.4 L494.2 676.4 L501.0 678.3 L507.9 680.2 L514.7 681.9 L521.5 683.7 L528.2 685.3 L535.0 686.9 L541.7 688.5 L548.4 690.0 L555.0 691.4 L561.7 692.8 L568.3 694.1 L574.8 695.3 L581.3 696.5 L587.8 697.6 L594.3 698.6 L600.7 699.6 L607.0 700.5 L613.3 701.4 L619.6 702.1 L625.8 702.8 L632.0 703.5 L638.1 704.1 L644.1 704.6 L650.1 705.1 L656.0 705.4 L661.9 705.8 L667.7 706.0 L673.4 706.2 L679.1 706.3 L684.7 706.4 L690.2 706.3 L695.7 706.3 L701.1 706.1 L706.4 705.9 L711.6 705.6 L716.8 705.3 L721.8 704.8 L726.8 704.4 L731.7 703.8 L736.6 703.2 L741.3 702.5 L745.9 701.8 L750.5 701.0 L755.0 700.1 L759.4 699.1 L763.6 698.1 L767.8 697.0 L771.9 695.9 L775.9 694.7 L779.8 693.4 L783.6 692.1 L787.3 690.7 L790.9 689.3 L794.4 687.8 L797.8 686.2 L801.1 684.5 L804.2 682.8 L807.3 681.1 L810.3 679.3 L813.1 677.4 L815.9 675.5 L818.5 673.5 L821.0 671.4 L823.4 669.3 L825.7 667.2 L827.9 665.0 L830.0 662.7 L831.9 660.4 L833.8 658.0 L835.5 655.6 L837.1 653.1 L838.6 650.6 L840.0 648.0 L841.2 645.3"/><path d="M453.0 663.8 L457.7 668.8 L462.4 673.8 L467.1 678.8 L471.8 683.7 L476.5 688.5 L481.2 693.3 L485.9 698.0 L490.5 702.6 L495.2 707.2 L499.8 711.7 L504.5 716.1 L509.1 720.5 L513.7 724.8 L518.2 729.0 L522.8 733.1 L527.3 737.2 L531.8 741.2 L536.3 745.1 L540.8 749.0 L545.2 752.7 L549.6 756.4 L554.0 760.0 L558.4 763.5 L562.7 766.9 L567.0 770.3 L571.2 773.5 L575.4 776.7 L579.6 779.8 L583.7 782.8 L587.8 785.7 L591.9 788.5 L595.9 791.2 L599.9 793.8 L603.8 796.3 L607.7 798.8 L611.5 801.1 L615.3 803.4 L619.0 805.5 L622.7 807.6 L626.3 809.5 L629.9 811.4 L633.4 813.1 L636.9 814.8 L640.3 816.3 L643.7 817.8 L647.0 819.2 L650.2 820.4 L653.4 821.6 L656.5 822.6 L659.6 823.6 L662.6 824.4 L665.5 825.2 L668.4 825.8 L671.2 826.3 L673.9 826.8 L676.5 827.1 L679.1 827.3 L681.7 827.4 L684.1 827.5 L686.5 827.4 L688.8 827.2 L691.1 826.9 L693.3 826.5 L695.4 826.0 L697.4 825.4 L699.3 824.7 L701.2 823.9 L703.0 823.0 L704.7 821.9 L706.4 820.8"/><path d="M453.0 663.8 L454.3 670.3 L455.5 676.7 L456.8 683.1 L458.1 689.5 L459.3 695.7 L460.6 702.0 L461.9 708.1 L463.1 714.2 L464.4 720.2 L465.6 726.1 L466.9 732.0 L468.1 737.8 L469.4 743.5 L470.6 749.1 L471.9 754.7 L473.1 760.1 L474.3 765.5 L475.5 770.8 L476.7 776.0 L477.9 781.2 L479.1 786.2 L480.3 791.1 L481.5 796.0 L482.6 800.8 L483.8 805.4 L484.9 810.0 L486.1 814.4 L487.2 818.8 L488.3 823.1 L489.4 827.2 L490.5 831.3 L491.6 835.3 L492.7 839.1 L493.7 842.9 L494.8 846.5 L495.8 850.0 L496.8 853.4 L497.8 856.7 L498.8 859.9 L499.8 863.0 L500.8 865.9 L501.7 868.8 L502.7 871.5 L503.6 874.1 L504.5 876.6 L505.4 879.0 L506.3 881.2 L507.1 883.4 L508.0 885.4 L508.8 887.3 L509.6 889.1 L510.4 890.7 L511.2 892.2 L511.9 893.6 L512.7 894.9 L513.4 896.0 L514.1 897.1 L514.8 898.0 L515.4 898.8 L516.1 899.4 L516.7 899.9 L517.3 900.3 L517.9 900.6 L518.5 900.7 L519.0 900.8"/><path d="M453.0 663.8 L450.5 670.0 L448.0 676.1 L445.5 682.2 L443.0 688.3 L440.5 694.3 L438.0 700.2 L435.5 706.0 L433.0 711.8 L430.6 717.5 L428.1 723.1 L425.6 728.7 L423.2 734.2 L420.7 739.6 L418.3 745.0 L415.9 750.2 L413.5 755.4 L411.1 760.5 L408.7 765.5 L406.3 770.4 L403.9 775.3 L401.6 780.0 L399.3 784.7 L396.9 789.3 L394.6 793.8 L392.4 798.2 L390.1 802.5 L387.9 806.7 L385.6 810.8 L383.4 814.8 L381.3 818.7 L379.1 822.5 L377.0 826.2 L374.9 829.8 L372.8 833.3 L370.7 836.6 L368.7 839.9 L366.7 843.1 L364.7 846.2 L362.7 849.1 L360.8 852.0 L358.9 854.7 L357.0 857.3 L355.1 859.8 L353.3 862.2 L351.5 864.5 L349.8 866.7 L348.1 868.7 L346.4 870.6 L344.7 872.4 L343.1 874.1 L341.5 875.7 L339.9 877.2 L338.4 878.5 L336.9 879.7 L335.5 880.8 L334.1 881.8 L332.7 882.7 L331.3 883.4 L330.0 884.0 L328.7 884.5 L327.5 884.9 L326.3 885.2 L325.2 885.3 L324.0 885.3 L323.0 885.2 L321.9 885.0"/><path d="M453.0 663.8 L447.4 668.0 L441.8 672.2 L436.2 676.3 L430.6 680.4 L425.0 684.4 L419.4 688.4 L413.8 692.2 L408.3 696.1 L402.7 699.8 L397.2 703.5 L391.7 707.2 L386.2 710.7 L380.7 714.2 L375.3 717.6 L369.8 721.0 L364.4 724.3 L359.0 727.5 L353.7 730.6 L348.4 733.7 L343.1 736.7 L337.8 739.6 L332.6 742.4 L327.4 745.2 L322.3 747.9 L317.2 750.5 L312.1 753.0 L307.1 755.4 L302.1 757.8 L297.2 760.0 L292.3 762.2 L287.5 764.3 L282.7 766.4 L278.0 768.3 L273.3 770.1 L268.7 771.9 L264.1 773.6 L259.6 775.2 L255.2 776.7 L250.8 778.1 L246.4 779.4 L242.2 780.6 L238.0 781.8 L233.8 782.8 L229.8 783.8 L225.8 784.7 L221.8 785.5 L218.0 786.1 L214.2 786.7 L210.5 787.3 L206.8 787.7 L203.3 788.0 L199.8 788.2 L196.4 788.4 L193.0 788.4 L189.8 788.4 L186.6 788.2 L183.5 788.0 L180.5 787.7 L177.5 787.3 L174.7 786.8 L171.9 786.2 L169.3 785.5 L166.7 784.7 L164.2 783.9 L161.8 782.9 L159.4 781.9 L157.2 780.7 L155.0 779.5 L153.0 778.2 L151.0 776.8 L149.2 775.3 L147.4 773.7 L145.7 772.0"/><path d="M453.0 663.8 L445.8 664.9 L438.6 666.0 L431.4 667.0 L424.2 668.0 L417.0 668.9 L409.8 669.7 L402.7 670.5 L395.5 671.3 L388.4 671.9 L381.3 672.6 L374.2 673.1 L367.1 673.6 L360.1 674.1 L353.1 674.5 L346.1 674.8 L339.1 675.1 L332.2 675.3 L325.3 675.5 L318.5 675.6 L311.7 675.7 L304.9 675.7 L298.2 675.6 L291.6 675.5 L285.0 675.3 L278.4 675.1 L271.9 674.8 L265.4 674.4 L259.0 674.0 L252.7 673.6 L246.4 673.0 L240.2 672.5 L234.1 671.8 L228.0 671.1 L222.0 670.4 L216.0 669.6 L210.2 668.7 L204.4 667.8 L198.7 666.9 L193.0 665.8 L187.4 664.7 L182.0 663.6 L176.6 662.4 L171.2 661.2 L166.0 659.9 L160.9 658.5 L155.8 657.1 L150.9 655.7 L146.0 654.2 L141.2 652.6 L136.5 651.0 L131.9 649.4 L127.5 647.7 L123.1 645.9 L118.8 644.1 L114.6 642.3 L110.5 640.4 L106.5 638.4 L102.6 636.4 L98.9 634.4 L95.2 632.3 L91.7 630.2 L88.2 628.0 L84.9 625.8 L81.7 623.6 L78.6 621.3 L75.6 618.9 L72.7 616.5 L70.0 614.1 L67.3 611.7 L64.8 609.2 L62.4 606.6 L60.1 604.1 L57.9 601.5 L55.9 598.8 L54.0 596.2 L52.1 593.4 L50.5 590.7 L48.9 587.9 L47.5 585.1 L46.1 582.3 L45.0 579.4 L43.9 576.6 L43.0 573.6 L42.1 570.7 L41.4 567.7"/><path d="M453.0 663.8 L446.1 661.5 L439.2 659.1 L432.4 656.7 L425.5 654.3 L418.6 651.8 L411.8 649.2 L405.0 646.6 L398.1 644.0 L391.3 641.3 L384.5 638.5 L377.8 635.7 L371.0 632.9 L364.3 630.0 L357.6 627.1 L351.0 624.1 L344.3 621.1 L337.7 618.0 L331.2 614.9 L324.7 611.8 L318.2 608.6 L311.7 605.4 L305.3 602.2 L299.0 598.9 L292.7 595.6 L286.4 592.2 L280.2 588.8 L274.0 585.4 L267.9 582.0 L261.9 578.5 L255.9 575.0 L250.0 571.5 L244.1 567.9 L238.3 564.4 L232.6 560.8 L226.9 557.1 L221.3 553.5 L215.8 549.8 L210.3 546.1 L204.9 542.4 L199.6 538.7 L194.4 535.0 L189.2 531.2 L184.2 527.5 L179.2 523.7 L174.3 519.9 L169.4 516.1 L164.7 512.3 L160.1 508.5 L155.5 504.7 L151.0 500.8 L146.6 497.0 L142.4 493.2 L138.2 489.3 L134.1 485.5 L130.1 481.7 L126.2 477.8 L122.4 474.0 L118.7 470.2 L115.1 466.3 L111.6 462.5 L108.2 458.7 L104.9 454.9 L101.8 451.1 L98.7 447.3 L95.7 443.6 L92.9 439.8 L90.1 436.1 L87.5 432.3 L85.0 428.6 L82.6 424.9 L80.3 421.3 L78.1 417.6 L76.0 414.0 L74.1 410.4 L72.2 406.8 L70.5 403.2 L68.9 399.7 L67.4 396.2 L66.0 392.7 L64.8 389.2 L63.7 385.8 L62.6 382.4 L61.7 379.0 L61.0 375.7 L60.3 372.4 L59.8 369.1 L59.3 365.9 L59.0 362.7 L58.9 359.6 L58.8 356.5 L58.9 353.4 L59.0 350.4 L59.3 347.4 L59.8 344.4 L60.3 341.5 L61.0 338.6 L61.7 335.8 L62.6 333.1 L63.7 330.3"/><path d="M453.0 663.8 L448.3 658.7 L443.6 653.5 L438.9 648.3 L434.2 643.0 L429.5 637.7 L424.8 632.4 L420.1 627.0 L415.5 621.5 L410.8 616.0 L406.2 610.5 L401.5 605.0 L396.9 599.4 L392.3 593.7 L387.8 588.1 L383.2 582.4 L378.7 576.6 L374.2 570.9 L369.7 565.1 L365.2 559.3 L360.8 553.5 L356.4 547.6 L352.0 541.8 L347.6 535.9 L343.3 530.0 L339.0 524.1 L334.8 518.2 L330.6 512.2 L326.4 506.3 L322.3 500.4 L318.2 494.4 L314.1 488.5 L310.1 482.5 L306.1 476.6 L302.2 470.6 L298.3 464.7 L294.5 458.7 L290.7 452.8 L287.0 446.9 L283.3 441.0 L279.7 435.1 L276.1 429.2 L272.6 423.4 L269.1 417.5 L265.7 411.7 L262.3 405.9 L259.0 400.1 L255.8 394.4 L252.6 388.7 L249.5 383.0 L246.4 377.4 L243.4 371.7 L240.5 366.1 L237.6 360.6 L234.8 355.1 L232.1 349.6 L229.5 344.2 L226.9 338.8 L224.3 333.5 L221.9 328.2 L219.5 322.9 L217.2 317.7 L214.9 312.6 L212.7 307.5 L210.6 302.4 L208.6 297.5 L206.7 292.5 L204.8 287.7 L203.0 282.9 L201.3 278.1 L199.6 273.5 L198.0 268.8 L196.5 264.3 L195.1 259.8 L193.8 255.4 L192.5 251.1 L191.4 246.8 L190.3 242.6 L189.2 238.5 L188.3 234.4 L187.4 230.5 L186.7 226.6 L186.0 222.8 L185.4 219.0 L184.8 215.4 L184.4 211.8 L184.0 208.3 L183.7 204.9 L183.5 201.6 L183.4 198.4 L183.4 195.3 L183.4 192.2 L183.5 189.2 L183.7 186.4 L184.0 183.6 L184.4 180.9 L184.8 178.3 L185.4 175.8 L186.0 173.4 L186.7 171.1 L187.4 168.9 L188.3 166.8 L189.2 164.8 L190.3 162.8 L191.4 161.0 L192.5 159.3 L193.8 157.7 L195.1 156.1 L196.5 154.7 L198.0 153.4"/><path d="M33.5 486.5 L33.6 479.9 L33.8 473.2 L34.1 466.6 L34.5 460.0 L35.1 453.4 L35.8 446.8 L36.6 440.2 L37.6 433.6 L38.7 427.0 L39.9 420.5 L41.2 414.0 L42.7 407.5 L44.3 401.0 L46.0 394.5 L47.8 388.1 L49.8 381.7 L51.8 375.3 L54.0 369.0 L56.4 362.7 L58.8 356.5 L61.4 350.2 L64.0 344.1 L66.8 337.9 L69.8 331.9 L72.8 325.8 L76.0 319.8 L79.2 313.9 L82.6 308.0 L86.1 302.2 L89.7 296.4 L93.4 290.7 L97.2 285.0 L101.2 279.4 L105.2 273.9 L109.4 268.4 L113.6 263.0 L118.0 257.7 L122.4 252.4 L127.0 247.2 L131.6 242.1 L136.4 237.1 L141.3 232.1 L146.2 227.2 L151.2 222.4 L156.4 217.7 L161.6 213.0 L166.9 208.4 L172.3 204.0 L177.8 199.6 L183.4 195.3 L189.0 191.0 L194.7 186.9 L200.5 182.9 L206.4 178.9 L212.4 175.1 L218.4 171.3 L224.5 167.6 L230.7 164.1 L236.9 160.6 L243.3 157.2 L249.6 154.0 L256.1 150.8 L262.6 147.7 L269.1 144.8 L275.7 141.9 L282.4 139.2 L289.1 136.5 L295.9 134.0 L302.7 131.6 L309.5 129.2 L316.4 127.0 L323.4 124.9 L330.4 122.9 L337.4 121.0 L344.4 119.3 L351.5 117.6 L358.6 116.0 L365.8 114.6 L373.0 113.3 L380.2 112.1 L387.4 111.0 L394.6 110.0 L401.9 109.1 L409.2 108.4 L416.4 107.8 L423.7 107.2 L431.0 106.8 L438.4 106.5 L445.7 106.4 L453.0 106.3 L460.3 106.4 L467.6 106.5 L475.0 106.8 L482.3 107.2 L489.6 107.8 L496.8 108.4 L504.1 109.1 L511.4 110.0 L518.6 111.0 L525.8 112.1 L533.0 113.3 L540.2 114.6 L547.4 116.0 L554.5 117.6 L561.6 119.3 L568.6 121.0 L575.6 122.9 L582.6 124.9 L589.6 127.0 L596.5 129.2 L603.3 131.6 L610.1 134.0 L616.9 136.5 L623.6 139.2 L630.3 141.9 L636.9 144.8 L643.4 147.7 L649.9 150.8 L656.4 154.0 L662.8 157.2 L669.1 160.6 L675.3 164.1 L681.5 167.6 L687.6 171.3 L693.6 175.1 L699.6 178.9 L705.5 182.9 L711.3 186.9 L717.0 191.0 L722.6 195.3 L728.2 199.6 L733.7 204.0 L739.1 208.4 L744.4 213.0 L749.6 217.7 L754.8 222.4 L759.8 227.2 L764.7 232.1 L769.6 237.1 L774.4 242.1 L779.0 247.2 L783.6 252.4 L788.0 257.7 L792.4 263.0 L796.6 268.4 L800.8 273.9 L804.8 279.4 L808.8 285.0 L812.6 290.7 L816.3 296.4 L819.9 302.2 L823.4 308.0 L826.8 313.9 L830.0 319.8 L833.2 325.8 L836.2 331.9 L839.2 337.9 L842.0 344.1 L844.6 350.2 L847.2 356.5 L849.6 362.7 L852.0 369.0 L854.2 375.3 L856.2 381.7 L858.2 388.1 L860.0 394.5 L861.7 401.0 L863.3 407.5 L864.8 414.0 L866.1 420.5 L867.3 427.0 L868.4 433.6 L869.4 440.2 L870.2 446.8 L870.9 453.4 L871.5 460.0 L871.9 466.6 L872.2 473.2 L872.4 479.9 L872.5 486.5"/><path d="M453.0 904.4 L446.7 904.4 L440.3 904.2 L434.0 904.0 L427.7 903.6 L421.3 903.2 L415.0 902.6 L408.7 901.9 L402.4 901.2 L396.2 900.3 L389.9 899.4 L383.7 898.4 L377.5 897.2 L371.3 896.0 L365.1 894.6 L359.0 893.2 L352.9 891.6 L346.8 890.0 L340.7 888.3 L334.7 886.5 L328.7 884.5 L322.8 882.5 L316.9 880.4 L311.0 878.2 L305.2 875.9 L299.5 873.6 L293.7 871.1 L288.1 868.5 L282.4 865.9 L276.9 863.1 L271.4 860.3 L265.9 857.4 L260.5 854.4 L255.1 851.3 L249.8 848.1 L244.6 844.9 L239.5 841.5 L234.4 838.1 L229.3 834.6 L224.4 831.0 L219.5 827.4 L214.7 823.6 L209.9 819.8 L205.2 815.9 L200.6 812.0 L196.1 808.0 L191.7 803.9 L187.3 799.7 L183.0 795.5 L178.8 791.2 L174.7 786.8 L170.7 782.4 L166.7 777.9 L162.9 773.3 L159.1 768.7 L155.4 764.0 L151.8 759.3 L148.3 754.5 L144.9 749.6 L141.6 744.7 L138.4 739.8 L135.3 734.8 L132.2 729.7 L129.3 724.6 L126.5 719.5 L123.7 714.3 L121.1 709.1 L118.6 703.8 L116.2 698.5 L113.8 693.1 L111.6 687.8 L109.5 682.3 L107.5 676.9 L105.6 671.4 L103.8 665.9 L102.1 660.4 L100.5 654.8 L99.0 649.2 L97.6 643.6 L96.4 638.0 L95.2 632.3 L94.2 626.7 L93.2 621.0 L92.4 615.3 L91.7 609.6 L91.1 603.8 L90.6 598.1 L90.2 592.4 L89.9 586.6 L89.8 580.9 L89.7 575.1 L89.8 569.4 L89.9 563.7 L90.2 557.9 L90.6 552.2 L91.1 546.4 L91.7 540.7 L92.4 535.0 L93.2 529.3 L94.2 523.6 L95.2 518.0 L96.4 512.3 L97.6 506.7 L99.0 501.1 L100.5 495.5 L102.1 489.9 L103.8 484.4 L105.6 478.9 L107.5 473.4 L109.5 467.9 L111.6 462.5 L113.8 457.1 L116.2 451.8 L118.6 446.5 L121.1 441.2 L123.7 436.0 L126.5 430.8 L129.3 425.7 L132.2 420.6 L135.3 415.5 L138.4 410.5 L141.6 405.6 L144.9 400.7 L148.3 395.8 L151.8 391.0 L155.4 386.3 L159.1 381.6 L162.9 377.0 L166.7 372.4 L170.7 367.9 L174.7 363.5 L178.8 359.1 L183.0 354.8 L187.3 350.6 L191.7 346.4 L196.1 342.3 L200.6 338.3 L205.2 334.3 L209.9 330.5 L214.7 326.6 L219.5 322.9 L224.4 319.3 L229.3 315.7 L234.4 312.2 L239.5 308.8 L244.6 305.4 L249.8 302.2 L255.1 299.0 L260.5 295.9 L265.9 292.9 L271.4 290.0 L276.9 287.2 L282.4 284.4 L288.1 281.8 L293.7 279.2 L299.5 276.7 L305.2 274.4 L311.0 272.1 L316.9 269.9 L322.8 267.8 L328.7 265.7 L334.7 263.8 L340.7 262.0 L346.8 260.3 L352.9 258.6 L359.0 257.1 L365.1 255.7 L371.3 254.3 L377.5 253.1 L383.7 251.9 L389.9 250.9 L396.2 249.9 L402.4 249.1 L408.7 248.3 L415.0 247.7 L421.3 247.1 L427.7 246.7 L434.0 246.3 L440.3 246.1 L446.7 245.9 L453.0 245.9 L459.3 245.9 L465.7 246.1 L472.0 246.3 L478.3 246.7 L484.7 247.1 L491.0 247.7 L497.3 248.3 L503.6 249.1 L509.8 249.9 L516.1 250.9 L522.3 251.9 L528.5 253.1 L534.7 254.3 L540.9 255.7 L547.0 257.1 L553.1 258.6 L559.2 260.3 L565.3 262.0 L571.3 263.8 L577.3 265.7 L583.2 267.8 L589.1 269.9 L595.0 272.1 L600.8 274.4 L606.5 276.7 L612.3 279.2 L617.9 281.8 L623.6 284.4 L629.1 287.2 L634.6 290.0 L640.1 292.9 L645.5 295.9 L650.9 299.0 L656.2 302.2 L661.4 305.4 L666.5 308.8 L671.6 312.2 L676.7 315.7 L681.6 319.3 L686.5 322.9 L691.3 326.6 L696.1 330.5 L700.8 334.3 L705.4 338.3 L709.9 342.3 L714.3 346.4 L718.7 350.6 L723.0 354.8 L727.2 359.1 L731.3 363.5 L735.3 367.9 L739.3 372.4 L743.1 377.0 L746.9 381.6 L750.6 386.3 L754.2 391.0 L757.7 395.8 L761.1 400.7 L764.4 405.6 L767.6 410.5 L770.7 415.5 L773.8 420.6 L776.7 425.7 L779.5 430.8 L782.3 436.0 L784.9 441.2 L787.4 446.5 L789.8 451.8 L792.2 457.1 L794.4 462.5 L796.5 467.9 L798.5 473.4 L800.4 478.9 L802.2 484.4 L803.9 489.9 L805.5 495.5 L807.0 501.1 L808.4 506.7 L809.6 512.3 L810.8 518.0 L811.8 523.6 L812.8 529.3 L813.6 535.0 L814.3 540.7 L814.9 546.4 L815.4 552.2 L815.8 557.9 L816.1 563.7 L816.2 569.4 L816.3 575.1 L816.2 580.9 L816.1 586.6 L815.8 592.4 L815.4 598.1 L814.9 603.8 L814.3 609.6 L813.6 615.3 L812.8 621.0 L811.8 626.7 L810.8 632.3 L809.6 638.0 L808.4 643.6 L807.0 649.2 L805.5 654.8 L803.9 660.4 L802.2 665.9 L800.4 671.4 L798.5 676.9 L796.5 682.3 L794.4 687.8 L792.2 693.1 L789.8 698.5 L787.4 703.8 L784.9 709.1 L782.3 714.3 L779.5 719.5 L776.7 724.6 L773.8 729.7 L770.7 734.8 L767.6 739.8 L764.4 744.7 L761.1 749.6 L757.7 754.5 L754.2 759.3 L750.6 764.0 L746.9 768.7 L743.1 773.3 L739.3 777.9 L735.3 782.4 L731.3 786.8 L727.2 791.2 L723.0 795.5 L718.7 799.7 L714.3 803.9 L709.9 808.0 L705.4 812.0 L700.8 815.9 L696.1 819.8 L691.3 823.6 L686.5 827.4 L681.6 831.0 L676.7 834.6 L671.6 838.1 L666.5 841.5 L661.4 844.9 L656.2 848.1 L650.9 851.3 L645.5 854.4 L640.1 857.4 L634.6 860.3 L629.1 863.1 L623.6 865.9 L617.9 868.5 L612.3 871.1 L606.5 873.6 L600.8 875.9 L595.0 878.2 L589.1 880.4 L583.2 882.5 L577.3 884.5 L571.3 886.5 L565.3 888.3 L559.2 890.0 L553.1 891.6 L547.0 893.2 L540.9 894.6 L534.7 896.0 L528.5 897.2 L522.3 898.4 L516.1 899.4 L509.8 900.3 L503.6 901.2 L497.3 901.9 L491.0 902.6 L484.7 903.2 L478.3 903.6 L472.0 904.0 L465.7 904.2 L459.3 904.4 L453.0 904.4"/><path d="M453.0 830.1 L449.3 830.1 L445.7 830.0 L442.0 829.9 L438.4 829.7 L434.7 829.4 L431.1 829.1 L427.4 828.7 L423.8 828.3 L420.2 827.8 L416.6 827.2 L413.0 826.6 L409.4 826.0 L405.8 825.3 L402.3 824.5 L398.7 823.7 L395.2 822.8 L391.7 821.8 L388.2 820.8 L384.7 819.8 L381.3 818.7 L377.8 817.5 L374.4 816.3 L371.0 815.0 L367.7 813.7 L364.4 812.3 L361.1 810.9 L357.8 809.4 L354.5 807.9 L351.3 806.3 L348.1 804.7 L345.0 803.0 L341.8 801.2 L338.8 799.5 L335.7 797.6 L332.7 795.8 L329.7 793.8 L326.8 791.9 L323.9 789.8 L321.0 787.8 L318.2 785.7 L315.4 783.5 L312.6 781.3 L310.0 779.1 L307.3 776.8 L304.7 774.5 L302.1 772.1 L299.6 769.7 L297.1 767.2 L294.7 764.8 L292.3 762.2 L290.0 759.7 L287.7 757.1 L285.5 754.4 L283.3 751.8 L281.2 749.1 L279.1 746.3 L277.1 743.6 L275.1 740.8 L273.2 737.9 L271.4 735.1 L269.5 732.2 L267.8 729.3 L266.1 726.3 L264.5 723.4 L262.9 720.4 L261.4 717.4 L259.9 714.3 L258.5 711.2 L257.2 708.2 L255.9 705.1 L254.7 701.9 L253.5 698.8 L252.4 695.6 L251.4 692.4 L250.4 689.2 L249.5 686.0 L248.6 682.8 L247.8 679.6 L247.1 676.3 L246.4 673.0 L245.8 669.8 L245.3 666.5 L244.8 663.2 L244.4 659.9 L244.0 656.6 L243.8 653.3 L243.5 650.0 L243.4 646.7 L243.3 643.4 L243.2 640.0 L243.3 636.7 L243.4 633.4 L243.5 630.1 L243.8 626.8 L244.0 623.5 L244.4 620.2 L244.8 616.9 L245.3 613.6 L245.8 610.3 L246.4 607.0 L247.1 603.8 L247.8 600.5 L248.6 597.3 L249.5 594.0 L250.4 590.8 L251.4 587.6 L252.4 584.5 L253.5 581.3 L254.7 578.1 L255.9 575.0 L257.2 571.9 L258.5 568.8 L259.9 565.8 L261.4 562.7 L262.9 559.7 L264.5 556.7 L266.1 553.7 L267.8 550.8 L269.5 547.9 L271.4 545.0 L273.2 542.1 L275.1 539.3 L277.1 536.5 L279.1 533.7 L281.2 531.0 L283.3 528.3 L285.5 525.6 L287.7 523.0 L290.0 520.4 L292.3 517.8 L294.7 515.3 L297.1 512.8 L299.6 510.4 L302.1 508.0 L304.7 505.6 L307.3 503.3 L310.0 501.0 L312.6 498.8 L315.4 496.6 L318.2 494.4 L321.0 492.3 L323.9 490.2 L326.8 488.2 L329.7 486.2 L332.7 484.3 L335.7 482.4 L338.8 480.6 L341.8 478.8 L345.0 477.1 L348.1 475.4 L351.3 473.8 L354.5 472.2 L357.8 470.7 L361.1 469.2 L364.4 467.7 L367.7 466.4 L371.0 465.1 L374.4 463.8 L377.8 462.6 L381.3 461.4 L384.7 460.3 L388.2 459.2 L391.7 458.2 L395.2 457.3 L398.7 456.4 L402.3 455.6 L405.8 454.8 L409.4 454.1 L413.0 453.4 L416.6 452.8 L420.2 452.3 L423.8 451.8 L427.4 451.4 L431.1 451.0 L434.7 450.7 L438.4 450.4 L442.0 450.2 L445.7 450.1 L449.3 450.0 L453.0 449.9 L456.7 450.0 L460.3 450.1 L464.0 450.2 L467.6 450.4 L471.3 450.7 L474.9 451.0 L478.6 451.4 L482.2 451.8 L485.8 452.3 L489.4 452.8 L493.0 453.4 L496.6 454.1 L500.2 454.8 L503.7 455.6 L507.3 456.4 L510.8 457.3 L514.3 458.2 L517.8 459.2 L521.3 460.3 L524.7 461.4 L528.2 462.6 L531.6 463.8 L535.0 465.1 L538.3 466.4 L541.6 467.7 L544.9 469.2 L548.2 470.7 L551.5 472.2 L554.7 473.8 L557.9 475.4 L561.0 477.1 L564.2 478.8 L567.2 480.6 L570.3 482.4 L573.3 484.3 L576.3 486.2 L579.2 488.2 L582.1 490.2 L585.0 492.3 L587.8 494.4 L590.6 496.6 L593.4 498.8 L596.0 501.0 L598.7 503.3 L601.3 505.6 L603.9 508.0 L606.4 510.4 L608.9 512.8 L611.3 515.3 L613.7 517.8 L616.0 520.4 L618.3 523.0 L620.5 525.6 L622.7 528.3 L624.8 531.0 L626.9 533.7 L628.9 536.5 L630.9 539.3 L632.8 542.1 L634.6 545.0 L636.5 547.9 L638.2 550.8 L639.9 553.7 L641.5 556.7 L643.1 559.7 L644.6 562.7 L646.1 565.8 L647.5 568.8 L648.8 571.9 L650.1 575.0 L651.3 578.1 L652.5 581.3 L653.6 584.5 L654.6 587.6 L655.6 590.8 L656.5 594.0 L657.4 597.3 L658.2 600.5 L658.9 603.8 L659.6 607.0 L660.2 610.3 L660.7 613.6 L661.2 616.9 L661.6 620.2 L662.0 623.5 L662.2 626.8 L662.5 630.1 L662.6 633.4 L662.7 636.7 L662.8 640.0 L662.7 643.4 L662.6 646.7 L662.5 650.0 L662.2 653.3 L662.0 656.6 L661.6 659.9 L661.2 663.2 L660.7 666.5 L660.2 669.8 L659.6 673.0 L658.9 676.3 L658.2 679.6 L657.4 682.8 L656.5 686.0 L655.6 689.2 L654.6 692.4 L653.6 695.6 L652.5 698.8 L651.3 701.9 L650.1 705.1 L648.8 708.2 L647.5 711.2 L646.1 714.3 L644.6 717.4 L643.1 720.4 L641.5 723.4 L639.9 726.3 L638.2 729.3 L636.5 732.2 L634.6 735.1 L632.8 737.9 L630.9 740.8 L628.9 743.6 L626.9 746.3 L624.8 749.1 L622.7 751.8 L620.5 754.4 L618.3 757.1 L616.0 759.7 L613.7 762.2 L611.3 764.8 L608.9 767.2 L606.4 769.7 L603.9 772.1 L601.3 774.5 L598.7 776.8 L596.0 779.1 L593.4 781.3 L590.6 783.5 L587.8 785.7 L585.0 787.8 L582.1 789.8 L579.2 791.9 L576.3 793.8 L573.3 795.8 L570.3 797.6 L567.2 799.5 L564.2 801.2 L561.0 803.0 L557.9 804.7 L554.7 806.3 L551.5 807.9 L548.2 809.4 L544.9 810.9 L541.6 812.3 L538.3 813.7 L535.0 815.0 L531.6 816.3 L528.2 817.5 L524.7 818.7 L521.3 819.8 L517.8 820.8 L514.3 821.8 L510.8 822.8 L507.3 823.7 L503.7 824.5 L500.2 825.3 L496.6 826.0 L493.0 826.6 L489.4 827.2 L485.8 827.8 L482.2 828.3 L478.6 828.7 L474.9 829.1 L471.3 829.4 L467.6 829.7 L464.0 829.9 L460.3 830.0 L456.7 830.1 L453.0 830.1"/></g></g>
<path d="M147.6 267.3 L151.1 268.2 L154.7 271.7 L158.2 274.4 L160.8 271.7 L164.4 270.9 L167.9 271.7 L169.6 275.3 L173.2 277.0 L176.7 281.4 L179.3 284.1 L184.6 282.3 L189.9 281.4 L193.4 280.6 L197.8 281.4 L201.4 284.1 L205.8 284.1 L209.3 286.7 L216.3 286.4 L221.6 287.6 L225.2 288.5 L226.9 292.9 L228.7 297.3 L232.2 299.9 L234.8 303.5 L235.4 309.6 L236.6 315.8 L237.5 323.7 L237.1 329.0 L235.4 334.3 L234.3 339.6 L234.8 344.9 L235.4 351.0 L235.7 355.4 L237.5 359.8 L238.9 362.8 L237.8 366.0 L234.0 369.5 L230.4 373.1 L229.0 378.3 L227.4 382.8 L225.2 384.5 L221.6 385.7 L219.0 384.5 L217.2 385.4 L216.3 388.9 L216.7 394.2 L212.8 396.0 L207.5 398.6 L202.2 400.9 L197.8 400.9 L194.3 398.6 L191.7 396.0 L189.9 395.1 L186.4 396.0 L185.5 400.4 L182.9 404.8 L181.1 406.5 L179.3 403.0 L180.2 396.0 L177.6 390.7 L174.1 386.3 L173.7 394.2 L174.1 401.3 L173.2 405.7 L170.5 406.5 L169.6 403.9 L165.2 403.0 L161.7 403.0 L157.3 403.0 L152.9 406.5 L149.4 410.1 L145.9 411.8 L142.3 417.1 L139.1 423.8 L136.5 433.0 L133.2 443.6 L131.9 452.9 L129.9 463.4 L127.2 471.4 L125.6 478.0 L125.9 484.6 L126.6 491.2 L125.6 496.5 L121.9 502.4 L118.0 505.7 L116.0 503.7 L115.3 498.5 L110.0 493.8 L102.1 492.5 L98.1 488.3 L88.2 487.2 L86.9 482.6 L84.9 480.9 L80.3 479.3 L77.7 472.7 L75.7 467.4 L75.9 455.5 L76.3 446.3 L78.3 444.9 L79.4 439.6 L79.6 433.0 L81.0 426.4 L83.0 419.8 L83.6 413.2 L83.3 404.0 L81.4 403.3 L82.3 398.0 L86.2 395.4 L84.1 389.2 L86.2 382.2 L84.9 376.9 L85.8 371.6 L87.6 366.3 L89.3 362.8 L92.0 361.0 L95.5 361.0 L96.4 357.5 L99.0 353.1 L101.7 350.4 L100.8 346.0 L99.9 341.6 L97.3 337.2 L98.1 332.8 L101.7 327.5 L106.1 322.2 L109.6 318.7 L114.0 314.3 L117.5 313.4 L121.1 318.7 L126.3 317.8 L129.9 315.2 L135.2 310.8 L140.4 307.3 L141.3 309.0 L144.0 309.9 L146.6 307.3 L149.3 302.9 L150.1 297.6 L150.1 292.3 L148.9 287.9 L147.5 283.5 L145.7 278.2 L146.6 272.9 L147.5 267.6 Z M226.0 399.5 L230.4 396.9 L234.8 395.1 L237.5 391.6 L241.0 388.9 L244.5 390.3 L246.3 394.2 L245.4 399.5 L248.4 401.3 L245.4 403.9 L243.7 408.3 L241.9 410.4 L238.4 409.2 L234.0 405.7 L230.4 403.0 Z M235.7 384.5 L237.8 382.2 L239.6 384.9 Z M219.9 396.0 L221.3 399.1 M224.3 282.8 L225.2 288.5 M176.7 388.0 L180.2 396.0 L178.5 403.0 L181.1 406.5 M122.8 302.9 L125.5 308.1 L122.8 311.7 L124.6 302.9 L121.9 304.6 L120.2 308.1 L122.8 310.8 L126.3 311.7 L124.6 306.4 M96.4 311.7 L98.1 314.3 L96.7 317.8 L96.0 313.4 Z M349.2 286.0 L355.2 287.1 L359.6 288.7 L362.3 291.4 L362.9 294.7 L364.2 297.5 L365.1 299.7 L367.3 298.6 L367.8 295.8 L369.4 296.9 L371.1 298.6 L372.2 301.3 L376.0 302.9 L379.3 303.3 L381.5 301.3 L384.2 299.3 L386.8 299.3 L387.0 303.5 L386.4 306.8 L384.8 310.6 L381.5 309.8 L379.9 312.3 L379.3 316.6 L377.7 321.0 L376.0 324.9 L373.8 327.6 L372.2 328.7 L370.0 327.0 L369.4 324.9 L371.1 322.7 L371.6 319.9 L370.0 318.8 L367.3 318.3 L364.0 317.2 L362.3 315.0 L363.4 312.3 L365.6 310.6 L366.2 306.8 L365.1 302.9 L364.0 300.7 L361.8 298.6 L359.0 295.3 L355.7 291.4 L352.5 288.1 Z M353.6 288.7 L358.5 290.3 L361.2 293.6 L362.3 296.9 M359.0 324.5 L356.8 325.4 L355.4 327.6 L355.7 332.0 L354.7 334.7 L353.6 338.0 L353.2 341.8 L351.4 344.0 L349.2 347.3 L346.4 350.6 L343.7 353.9 L341.0 357.2 L339.9 361.0 L337.7 362.6 L337.5 365.9 L338.2 368.1 L336.6 370.9 L338.8 372.5 L341.0 371.4 L344.2 370.3 L346.4 370.9 L349.2 371.4 L351.9 368.7 L354.7 365.9 L356.8 363.2 L356.8 358.3 L356.6 353.9 L355.7 351.7 L357.9 349.5 L360.1 347.9 L364.0 347.3 L362.3 345.1 L362.9 342.4 L364.5 338.0 L366.2 333.6 L367.3 329.8 L367.8 327.0 L365.6 325.9 L364.5 327.6 L362.3 329.2 L360.7 327.6 L359.0 326.5 Z M359.0 344.0 L362.3 343.8 L362.6 344.7 L359.0 344.9 Z M353.6 346.2 L357.4 347.3 L360.1 347.9 M354.1 356.1 L356.6 356.1 M343.7 376.9 L345.3 373.6 L346.4 374.2 L344.8 377.4 Z M567.2 613.6 L564.1 619.0 L561.1 616.7 L556.4 621.3 L552.6 622.8 L553.3 613.6 L552.6 609.7 L548.7 607.4 L549.5 602.8 L546.4 599.7 L548.0 596.6 L544.1 593.5 L540.2 592.0 L537.9 591.2 L534.1 586.6 L529.4 582.8 L524.1 579.7 L519.4 576.6 L517.9 573.2 L514.0 572.3 L510.2 575.0 L507.9 574.3 L504.0 573.5 L497.8 573.2 L493.2 574.3 L493.5 578.1 L491.7 581.2 L489.4 583.5 L484.7 582.8 L484.0 580.4 L481.7 578.9 L477.8 578.1 L474.7 575.4 L472.4 576.6 L471.6 580.4 L473.9 582.8 L477.0 585.1 L473.9 586.6 L473.2 590.5 L475.5 593.5 L478.6 595.9 L481.7 598.2 L483.2 602.0 L482.4 606.7 L479.3 609.0 L476.3 608.2 L473.2 604.3 L469.3 605.1 L470.9 608.2 L469.3 612.0 L469.8 616.7 L467.8 621.3 L466.7 625.9 L468.5 628.2 L470.9 631.3 L472.4 634.4 L469.3 632.9 L466.2 631.3 L464.7 634.4 L460.8 632.1 L456.2 629.8 L451.6 626.2 L446.2 625.9 L437.7 621.3 L430.0 616.7 L446.8 625.8 L442.4 622.8 L436.3 620.2 L429.2 615.7 L423.9 612.2 L421.3 607.8 L416.9 605.2 L416.0 600.8 L414.2 597.2 L416.0 594.6 L420.4 591.1 L416.0 588.4 L414.2 585.8 L409.8 581.4 L407.2 576.1 L405.4 571.2 L402.8 568.2 L406.3 564.6 L404.5 562.0 L407.2 558.5 L410.4 554.1 L410.7 547.9 L409.8 541.7 L406.3 540.0 L401.0 537.7 L395.7 537.7 L391.3 540.0 L388.7 538.7 L384.3 540.5 L379.9 539.1 L376.3 537.0 L371.9 539.1 L367.5 540.9 L364.9 537.7 L362.2 538.2 L361.4 542.6 L357.8 541.7 L356.1 544.4 L354.3 542.6 L350.8 544.7 L346.4 545.8 L341.1 547.0 L339.0 543.5 L336.7 546.1 L332.3 547.9 L325.2 553.2 L319.1 555.8 L312.9 558.5 L309.4 563.8 L307.1 569.1 L308.5 573.5 L310.3 577.0 L306.7 579.6 L301.5 581.4 L300.9 586.7 L299.7 592.8 L297.9 599.0 L297.0 605.2 L292.6 606.9 L290.0 611.3 L286.4 611.5 L286.1 616.4 L287.3 620.8 L290.3 622.6 L290.8 626.1 L287.3 630.5 L283.8 634.1 L281.5 636.2 L282.0 642.9 L282.6 647.3 L280.3 649.0 L282.0 651.3 L286.1 651.7 L286.8 657.0 L287.3 661.4 L284.7 662.2 L287.8 664.0 L288.2 669.3 L290.0 672.8 L291.4 675.5 L290.3 679.0 L286.8 680.2 L291.7 682.5 L294.4 686.9 L296.1 692.2 L298.8 695.4 L301.9 696.1 L304.1 699.3 L308.5 702.8 L312.0 704.5 L314.3 703.7 L318.1 706.3 L322.6 709.8 L326.1 712.5 L328.7 714.8 L332.2 712.5 L335.4 712.5 L334.9 716.9 L335.4 720.4 L332.2 722.5 L329.6 721.3 L325.2 720.7 L320.8 721.8 L316.4 723.6 L319.0 729.2 L322.6 735.4 L326.1 741.5 L328.7 745.9 L331.0 749.5 L331.9 751.8 L332.6 756.2 L335.2 760.6 L339.6 763.9 L345.2 765.0 L347.4 761.7 L350.7 766.1 L354.0 765.0 L358.4 767.2 L366.1 769.4 L374.9 770.9 L380.4 770.5 L381.9 767.2 L384.8 767.8 L387.0 771.6 L389.2 774.9 L390.3 779.3 L393.6 778.2 L396.9 776.0 L403.5 776.0 L412.3 776.7 L421.1 777.5 L426.7 778.9 L430.0 781.1 L436.6 782.6 L443.2 781.5 L449.8 779.7 L454.2 781.1 L457.5 782.6 L460.8 780.4 L467.4 777.5 L474.0 775.3 L472.6 775.3 L477.0 774.3 L477.9 772.2 L482.3 773.0 L487.6 771.8 L491.1 770.7 L494.7 767.8 L498.2 768.6 L500.8 770.4 L503.5 766.9 L501.7 763.3 L504.4 759.8 L505.2 755.4 L503.5 752.8 L500.8 751.9 L503.5 748.4 L506.1 744.0 L505.2 740.4 L507.9 737.8 L510.5 733.4 L514.1 729.9 L515.5 726.3 L514.1 721.9 L515.5 718.4 L516.7 714.9 L513.2 712.2 L511.4 711.4 L507.9 713.1 L504.4 714.0 L501.7 711.4 L499.1 708.7 L502.6 706.1 L503.1 699.9 L502.2 692.9 L503.5 686.7 L504.4 682.3 L500.8 679.6 L504.4 679.1 L508.8 677.9 L512.3 673.5 L516.7 670.0 L521.1 667.3 L524.6 665.6 L527.3 665.6 L530.8 664.7 L531.7 659.4 L534.3 658.5 L537.0 661.1 L539.6 659.4 L542.2 654.1 L544.9 651.5 L548.4 651.5 L551.9 654.1 L554.6 657.6 L556.3 661.1 L555.5 668.2 L552.8 673.5 L551.9 678.8 L554.6 683.2 L558.1 685.8 L561.6 689.3 L554.3 683.5 L557.5 685.9 L559.9 689.1 L563.9 691.5 L568.7 693.5 L573.5 693.9 L578.2 693.1 L583.0 692.6 L587.8 692.3 L592.6 692.3 L597.4 690.7 L600.6 691.5 L601.4 687.5 L603.7 685.9 L606.9 685.9 L610.1 687.5 L612.5 690.7 L614.9 693.9 L613.3 697.8 L616.5 697.1 L618.9 692.3 L621.3 695.5 L623.7 698.6 L624.5 703.4 L622.9 707.4 L626.1 709.8 L625.3 713.8 L626.9 715.4 L627.6 710.6 L628.4 705.8 L626.1 701.8 L627.3 697.1 L626.9 691.5 L622.9 690.7 L619.7 689.1 L618.1 685.9 L612.5 683.5 L614.9 681.1 L610.9 678.7 L608.5 681.1 L605.3 682.7 L601.4 681.1 L598.2 676.3 L595.0 677.1 L591.0 678.7 L585.4 679.5 L581.4 680.8 L577.5 681.1 L574.3 678.7 L572.7 674.7 L571.9 670.0 L570.6 665.2 L571.1 659.6 L574.3 660.4 L578.2 658.8 L575.1 655.6 L571.9 654.8 L569.5 651.6 L571.1 647.6 L573.5 644.5 L574.3 639.7 L571.9 634.9 L571.1 628.5 L570.3 622.9 L568.7 617.4 L567.9 611.8 L566.3 611.0 L563.9 619.0 L561.5 615.0 L559.9 620.6 L556.7 619.0 L555.1 622.2 L552.7 621.4 L551.2 614.2 L553.5 611.0 L549.6 607.8 L551.2 602.2 L549.6 596.7 L545.6 603.0 L547.2 597.5 L543.2 594.3 L540.0 591.1 L542.4 589.5 L544.8 585.5 L540.0 583.9 Z M416.0 582.3 L421.3 581.4 L419.0 584.9 Z M461.6 588.1 L463.9 586.6 L466.7 591.2 L466.2 594.3 L463.9 593.5 Z M534.8 578.1 L537.9 575.8 L544.9 585.8 L544.1 589.7 L540.2 588.1 Z M536.4 581.2 L541.8 579.7 M537.9 584.3 L543.3 583.1 M536.4 593.5 L544.1 586.6 M578.2 671.6 L579.0 670.0 L583.0 670.0 L583.8 666.8 L587.0 664.4 L589.4 670.0 L592.6 672.4 L595.8 671.6 L602.2 670.0 L603.7 672.4 L601.4 674.7 L595.8 675.5 L594.2 677.1 L587.8 677.9 L582.2 677.1 L579.0 675.5 Z M597.4 662.0 L599.0 661.4 L599.9 662.8 L598.6 664.2 L597.4 663.6 Z M572.7 663.6 L577.5 664.4 L574.3 666.8 Z M572.7 611.0 L575.9 612.6 L579.0 619.0 L577.5 623.7 L575.1 622.9 L574.3 615.8 Z M544.0 658.0 L547.2 658.8 L544.8 669.2 L540.8 668.4 Z M543.2 652.4 L547.2 651.6 L550.4 653.2 L553.5 656.4 L555.9 660.4 L555.1 665.2 L553.5 670.0 L551.2 673.9 L552.0 678.7 L554.3 683.5 M543.2 652.4 L540.0 655.6 M526.4 660.3 L531.7 659.4 L530.8 664.7 L527.3 665.6 Z M539.6 666.4 L544.0 657.6 L547.5 658.5 L544.0 669.1 Z M528.1 671.7 L530.8 671.4 L535.6 676.1 L534.3 677.9 Z M511.4 689.3 L514.9 687.2 L520.2 689.3 L525.5 693.7 L527.3 699.0 L524.6 703.4 L521.1 704.3 L520.2 700.8 L516.7 700.8 L512.3 698.1 L510.2 693.7 Z M517.6 677.9 L521.1 683.7 M518.5 679.6 L522.9 676.1 M506.1 712.2 L511.4 711.4 L516.7 714.9 L515.5 718.4 M414.2 596.2 L415.9 600.6 L415.1 605.0 L420.0 606.7 M684.8 677.8 L685.1 676.0 L687.9 676.1 L686.6 673.2 L689.3 673.2 L689.6 671.5 L689.4 669.2 L692.0 669.5 L691.2 666.9 L693.6 667.1 L693.2 664.8 L694.2 663.8 L696.4 663.7 L698.8 663.8 L697.1 660.6 L698.3 659.8 L700.7 659.9 L702.8 659.8 L702.2 657.7 L703.1 656.1 L705.9 657.5 L704.8 652.9 L708.3 655.3 L708.1 652.1 L709.0 650.7 L710.2 649.8 L711.9 649.8 L714.5 651.1 L714.1 647.7 L716.4 648.6 L717.6 648.1 L719.0 646.6 L720.8 647.1 L722.1 644.5 L723.1 644.5 L724.9 644.3 L727.4 645.6 L728.5 643.8 L730.1 643.6 L731.3 645.3 L732.9 645.2 L737.2 641.9 L737.8 640.0 L739.8 639.0 L740.6 637.2 L741.5 634.9 L742.4 636.6 L743.8 637.5 L742.5 639.5 L742.5 642.4 L744.5 642.2 L745.2 644.4 L746.9 643.3 L748.8 643.4 L750.5 643.0 L754.9 641.9 L758.2 640.8 L757.6 636.4 L761.5 633.7 L765.4 636.4 L764.8 640.8 L761.5 642.5 L763.7 637.5 L768.1 633.1 L773.6 633.1 L780.0 632.0 M687.0 681.3 L685.7 678.3 L687.8 678.2 L687.0 675.8 L690.3 676.6 L691.5 675.8 L691.7 674.1 L693.7 673.9 L692.5 671.1 L694.8 671.1 L695.3 669.7 L696.1 668.6 L696.5 667.1 L698.8 667.2 L700.0 666.4 L699.1 663.9 L700.7 663.3 L699.4 660.3 L702.6 661.5 L703.3 660.4 L705.4 660.6 L705.8 659.1 L704.9 656.3 L706.2 655.7 L707.9 655.9 L707.7 652.4 L710.0 653.6 L710.5 651.6 L711.7 650.7 L712.8 649.8 L715.7 652.0 L715.8 648.5 L717.2 648.6 L718.7 648.9 L720.6 650.7 L720.7 646.6 L722.5 647.9 L723.9 647.9 L725.6 649.1 L726.4 648.4 L727.8 648.5 L728.9 645.6 L730.3 646.1 L731.8 646.3 M686.2 675.7 L689.0 675.7 L690.4 674.6 L689.3 671.0 L690.6 669.7 L692.0 668.5 L693.2 667.1 L695.2 666.4 L696.8 665.3 L697.1 663.1 L697.6 661.1 L700.1 661.1 L701.2 659.7 L703.0 659.0 L705.4 658.8 L705.8 656.9 L706.9 655.2 L708.7 654.4 L710.5 653.5 L710.6 650.4 L714.1 652.1 L715.4 650.6 L716.3 648.5 M699.3 662.3 L700.2 661.1 L700.8 659.4 L702.0 658.3 L703.3 657.3 L705.0 658.0 L707.3 657.6 L706.9 659.0 L706.3 660.4 L705.6 662.4 L704.0 662.8 L702.8 664.0 L700.2 664.7 L699.3 663.4 L698.7 661.8 M687.7 686.5 L689.9 682.7 L694.3 678.3 L698.7 673.9 L702.0 671.7 L705.3 672.8 L707.5 670.0 L711.9 667.3 L715.2 669.5 L718.5 669.5 L718.0 672.8 L721.9 673.3 L724.1 677.2 L726.3 680.5 L729.6 679.9 L731.8 676.1 L735.1 672.8 L738.4 670.4 L740.6 671.7 L741.7 677.2 L745.0 678.3 L748.3 679.4 L750.5 684.9 L752.7 680.5 L754.9 678.3 L759.8 676.6 L758.7 680.5 L757.1 684.9 L757.1 688.7 L761.5 689.3 L764.8 688.2 L762.6 691.5 L762.0 698.1 L759.8 703.6 L759.3 710.0 M687.7 686.5 L686.6 683.8 L685.5 678.3 M693.2 708.0 L696.5 704.7 L698.7 703.1 L700.9 704.7 L698.2 706.9 L695.4 709.7 M760.0 633.8 L767.2 632.9 L777.9 632.9 L786.9 629.3 L795.9 628.4 L804.8 628.4 L812.0 623.0 L821.0 621.2 L829.9 618.5 L834.4 614.1 L838.9 609.6 L844.3 605.1 L847.8 601.5 L850.5 596.1 L852.3 587.2 L854.1 580.0 M760.0 688.5 L763.6 688.5 L763.6 694.7 L760.0 699.2 M760.0 709.1 L765.4 711.8 L770.8 705.5 L777.9 701.0 L782.4 701.6 L788.7 700.5 M770.8 716.3 L766.3 721.6 L765.4 727.0 L768.1 732.4 L770.8 733.3 L769.0 737.8 L769.9 744.0 L774.3 744.9 L777.9 741.4 L775.2 748.5 L772.5 754.8 L770.8 760.0 M852.3 597.9 L849.6 604.2 L851.8 601.5 M848.9 595.6 L853.8 579.1 L857.1 562.6 L860.4 549.4 L863.7 537.8 L867.9 521.3 L870.3 504.8 L872.0 488.3 L872.8 480.0 M850.5 608.9 L853.0 597.3 M101.8 286.3 L107.0 279.3 L113.2 268.7 L119.4 259.9 L126.4 252.8 L135.2 245.8 L145.8 238.7 L154.6 233.4 L161.7 230.8 L169.6 227.3 L172.2 229.0 L169.6 232.6 L175.8 233.4 L181.1 231.7 L186.3 230.8 L191.6 229.0 L190.7 226.4 M191.6 229.9 L184.6 235.2 L177.5 239.6 L170.5 242.2 L165.2 240.5 L159.9 242.2 L154.6 246.7 L152.0 249.3 L156.4 248.4 M140.5 270.4 L135.2 268.7 L130.8 271.3 L126.4 277.5 L124.7 282.8 L129.1 275.7 L133.5 270.4 L130.0 274.0 L126.4 273.1 L128.2 270.4 M144.9 258.1 L151.1 256.3 L150.2 259.0 L144.9 260.7 Z M175.8 222.0 L184.6 214.1 L191.6 207.0 L196.9 200.8 L195.2 204.4 L188.1 212.3 L180.2 219.3 Z M183.7 202.6 L191.6 199.1 L198.7 196.8 L201.9 197.3 L200.4 199.6 L193.4 200.3 L186.3 202.6 Z M211.0 195.6 L219.8 192.9 L218.9 196.4 L214.5 198.2 Z M221.6 192.9 L228.6 191.1 L231.3 195.6 M226.9 191.5 L227.8 196.4 M234.8 187.6 L242.7 187.6 M243.6 191.1 L248.0 189.4 L247.1 192.0 Z M248.9 185.0 L255.1 187.6 M255.1 188.5 L260.0 190.3 M107.9 268.7 L115.9 265.2 L113.2 270.4 L110.6 274.0 L112.3 267.8 M100.0 282.8 L107.0 278.4 L105.3 284.5 L101.8 288.1 M364.3 185.6 L380.8 180.6 L377.5 187.2 Z M290.0 193.8 L298.2 192.2 L299.9 198.8 L294.9 195.5 Z M280.1 226.9 L288.3 225.2 L299.9 227.8 L298.2 231.8 L288.3 231.8 Z M380.8 180.6 L383.5 177.3 M433.2 158.0 L437.1 159.1 L436.0 159.7 Z M438.2 159.7 L442.6 160.4 M543.5 109.5 L545.5 110.5 M592.5 199.5 L594.5 201.5 M547.0 78.5 L553.0 79.5 L557.0 80.5 M547.0 79.5 L552.0 80.5 M69.4 330.5 L67.9 332.2 L68.1 334.5 L64.7 335.5 L64.7 337.8 L65.3 340.4 L64.2 342.2 L63.1 344.1 L62.3 346.1 L62.2 348.3 L59.2 349.3 L58.0 351.1 L58.8 353.6 L57.9 355.5 L58.3 357.9 L57.5 359.8 L56.0 361.4 L55.4 363.4 L52.9 364.8 L54.4 367.3 L54.3 369.4 L50.9 370.5 L51.7 372.8 L52.3 375.1 L50.6 376.7 L51.6 379.1 L49.6 380.6 L47.6 382.2 L47.5 384.4 L47.5 386.7 L48.3 389.1 L47.4 391.2 L47.5 393.5 L45.1 395.1 L45.3 397.4 L44.0 399.4 L44.9 401.8 L44.8 404.0 L42.5 405.8 L41.5 407.8 L41.5 410.0 L41.2 412.1 L40.7 414.3 L40.5 416.4 L41.7 418.9 L40.3 420.8 L40.5 423.0 L41.1 425.3 L40.8 427.5 L39.6 429.5 L39.3 431.6 L37.6 433.5 L36.4 435.5 L37.7 437.9 L35.8 439.8 L35.3 441.9 L35.1 444.1 L36.7 446.6 L36.9 448.8 L36.5 451.0 L36.3 453.2 L36.0 455.4 L34.4 457.5 L33.3 459.4 L33.3 461.4 L34.2 463.5 L33.5 465.4 L32.8 467.4 L34.9 469.6 L32.9 471.4 L33.2 473.4 M64.9 331.2 L64.2 334.0 L63.2 336.7 L62.7 339.6 L62.3 342.5 L59.9 344.6 L59.9 347.7 L57.9 349.8 L56.6 352.1 L57.0 355.1 L56.1 357.6 L54.0 359.6 L53.6 362.3 L54.0 365.2 L53.2 367.7 L52.3 370.5 L49.7 372.7 L49.1 375.6 L49.7 378.9 L47.3 381.2 L46.1 383.9 L46.2 386.7 L46.3 389.5 L45.2 392.0 L45.5 394.9 L45.2 397.5 L42.3 399.6 L42.4 402.4 L42.2 405.0 L40.7 407.3 L41.4 410.0 L39.9 412.3 L39.5 414.8 L40.4 417.6 L39.8 420.1 L39.3 422.5 L39.0 425.2 L37.8 427.9 L38.2 430.7 L37.4 433.4 L37.7 436.2 L35.5 438.7 L36.4 441.6 L35.8 444.1 L35.2 446.5 L34.1 448.9 L35.0 451.6 L33.5 453.9 L34.1 456.6 L33.8 459.1 M77.7 330.0 L76.5 331.9 L76.3 334.5 L74.1 335.8 L73.4 338.1 L72.7 340.0 L69.9 341.7 L70.6 344.6 L69.1 346.8 L67.7 348.9 L67.3 351.5 L67.1 354.0 L65.9 356.2 L65.1 358.4 L63.9 360.5 L64.9 363.3 L63.1 365.2 L63.2 367.8 L62.4 370.0 L60.4 372.0 L60.3 374.6 L59.3 377.0 L58.0 379.2 L56.9 381.5 L57.2 384.2 L56.0 386.5 L55.5 389.0 L54.7 391.3 L53.4 393.6 L53.2 396.2 L52.2 398.5 L51.8 400.9 L50.1 403.1 L50.2 405.6 L49.2 407.9 L48.5 410.2 L49.7 413.0 L48.5 415.4 L47.0 417.8 L46.8 420.4 L48.1 423.2 L47.7 425.8 L46.4 427.9 L46.9 430.4 L46.0 432.6 L46.0 434.9 L44.0 436.9 L43.3 439.1 L42.5 441.3 L43.8 444.0 L41.9 446.0 L41.4 448.3 L42.2 450.9 L39.7 452.7 L39.0 454.9 L40.3 457.6 L38.0 459.5 L38.9 462.1 L38.2 464.3 L36.5 466.3 L36.4 468.7 L37.7 471.3 L36.5 473.5 L35.9 475.8 L35.9 478.2 L35.8 480.7 L35.0 483.0 L33.5 485.2 L34.9 487.9 L33.2 490.0 M80.8 342.7 L80.4 344.7 L80.7 347.0 L79.1 348.5 L77.5 350.0 L77.0 352.0 L77.4 354.3 L74.0 355.6 L73.8 358.1 L72.5 360.1 L74.1 363.2 L72.9 365.3 L72.7 367.7 L69.9 369.0 L70.5 371.7 L70.1 373.9 L68.5 375.8 L66.3 377.4 L65.8 379.7 L66.5 382.5 L66.1 384.9 L63.1 386.3 L63.3 388.8 L61.4 390.7 L61.3 394.0 L59.9 395.9 L57.4 397.0 L57.3 399.1 L57.5 401.4 L54.3 402.3 L54.3 404.5 L53.0 406.2 L54.4 409.0 L51.6 410.4 L53.2 413.3 L50.2 414.7 L50.7 417.2 L50.4 419.3 L49.4 421.3 L47.9 423.3 L49.4 425.7 L49.4 427.9 L47.8 429.9 L48.3 432.2 L48.2 434.3 L47.5 436.2 L47.3 438.3 L46.4 440.2 L45.6 442.1 L45.1 444.1 L43.3 445.7 L44.2 448.1 L43.0 450.1 L43.5 452.5 L42.5 454.6 L43.0 457.0 L41.8 459.1 L42.0 461.4 L39.4 463.1 L39.4 465.4 L40.0 467.9 L38.6 469.9 L36.8 471.7 L38.7 474.5 L36.1 476.2 L36.8 478.7 L36.1 480.8 L35.6 483.0 M62.9 384.6 L64.8 385.6 L65.8 387.4 L64.6 388.3 L63.1 389.1 L63.1 391.2 L61.5 391.6 L59.5 393.7 M66.2 352.4 L66.7 353.6 L67.5 354.6 L68.0 355.8 L68.8 357.7 L68.0 358.6 L67.4 359.8 L65.9 360.3 M113.4 260.2 L113.6 262.7 L112.9 264.6 L112.1 266.5 L109.1 267.1 L108.0 268.8 L107.5 270.9 L107.5 273.3 L106.5 275.1 L105.3 276.8 L103.8 278.3 L103.4 280.5 L101.6 281.8 L101.0 283.9 L98.1 284.5 L97.0 286.2 L96.9 288.7 L96.4 291.0 L93.5 291.5 L93.9 294.4 L92.6 296.1 L92.4 298.3 L90.4 299.5 L89.1 301.1 L88.0 302.9 L87.8 305.1 L85.9 306.4 L86.3 308.7 L84.7 310.5 L84.3 312.7 L82.6 314.4 L82.7 316.9 L81.8 319.0 L80.2 320.7 L79.5 322.9 L77.6 324.6 L76.9 326.8 L75.4 328.7 L75.2 331.1 M124.7 271.4 L126.5 270.6 L127.7 269.8 L129.4 270.4 L130.7 271.5 L131.0 272.4 L131.0 274.6 L129.2 275.3 L128.1 276.7 L127.9 278.6 L125.9 279.4 L124.9 280.8 L124.8 282.7 L125.8 281.2 L126.8 279.8 L126.7 277.7 L128.1 276.4 M110.5 266.8 L112.2 266.2 L114.2 266.1 L115.3 264.8 L114.7 266.3 L114.5 267.9 L113.7 268.8 L112.4 270.0 L110.9 270.9 L109.6 272.0 M101.6 277.8 L103.0 277.0 L104.6 276.7 L106.2 276.7 L108.4 276.7 L106.7 277.8 L106.4 279.5 L105.7 281.0 L105.1 282.4 L103.6 283.2 L102.3 284.4 L100.8 285.2 M90.9 291.5 L93.0 292.2 L94.8 291.5 L96.4 290.5 L95.6 291.9 L94.8 293.2 L94.9 295.1 L93.2 296.0 L93.1 297.9 L91.5 299.4 L89.3 300.2 M82.7 302.7 L82.3 304.3 L83.7 305.3 L83.2 307.0 L83.4 307.5 L83.2 309.0 L82.5 310.1 L81.4 310.8 L80.5 311.7 M96.2 311.8 L97.0 313.6 L98.0 315.1 L96.7 317.8" fill="none" stroke="#000" stroke-width="1" stroke-linejoin="miter" shape-rendering="crispEdges"/>
<path d="M136.7 247.0 L137.9 258.1 L140.5 270.4 M699.3 673.9 L705.3 673.9 L708.1 667.3 L708.6 661.8 L710.8 658.5 L716.3 656.3 L719.1 651.9 L724.1 649.6 L728.5 651.3 L734.0 650.7 L739.5 652.4 L743.9 652.4 L747.2 650.7 L750.5 652.4 L752.7 649.6 L757.1 648.0 L760.4 645.2 L765.9 643.6 L771.4 641.9 L775.8 641.9 L778.0 644.7 L780.0 644.7 M760.0 645.4 L767.2 643.6 L776.1 643.6 L780.6 641.0 L786.9 640.1 L790.5 642.7 L795.9 640.1 L798.5 641.9 L804.8 635.6 L808.4 632.0 L812.9 633.8 L817.4 631.1 L821.0 634.7 L824.5 632.9 L828.1 631.1 L829.0 633.8 L832.6 633.8 L831.7 628.4 L837.1 623.0 L842.5 617.6 L844.3 612.3 L847.8 606.9 L849.6 603.3 L852.3 597.9 L857.7 590.8 L859.5 580.0 M832.6 633.8 L831.7 639.2 L829.0 646.3 L827.2 651.7 L826.3 657.1 L829.9 658.9 L829.0 664.3 L827.2 670.5 L823.6 675.9 L821.0 680.4 L815.6 684.0 L812.9 687.6 L812.0 692.9 L808.4 697.4 L803.9 702.8 L799.4 708.2 L795.9 711.8 L792.3 717.2 L789.6 715.4 L790.5 709.1 L793.2 705.5 L795.0 703.7 L798.5 694.7 L803.0 692.1 L805.7 694.7 L810.2 689.4 L813.8 684.9 L819.2 682.2 L822.7 677.7 M789.6 701.0 L783.3 710.9 L776.1 719.8 L769.0 727.9 M782.4 701.6 L788.7 700.5 L790.5 705.5 M869.0 549.4 L866.2 565.9 L863.7 575.8 L857.1 594.0 L853.8 602.2 L848.0 607.2 L843.9 613.8 M848.0 607.2 L857.1 603.1" fill="none" stroke="#33ee33" stroke-width="2" stroke-linejoin="round" shape-rendering="crispEdges"/>
<path d="M872.1 495.3 A419.2 419.2 0 0 1 871.0 518.7 M867.5 549.2 A419.2 419.2 0 0 1 866.1 557.9 M862.1 577.9 A419.2 419.2 0 0 1 856.0 602.0" fill="none" stroke="#33ee33" stroke-width="1.6" shape-rendering="crispEdges"/>
<path d="M50.7 376.2 L46.7 392.2 L42.7 406.5 L39.9 419.2" fill="none" stroke="#33ee33" stroke-width="1" stroke-dasharray="1 1" shape-rendering="crispEdges"/>
<path d="M412.7 905.1 A420.5 420.5 0 0 1 309.2 881.6" fill="none" stroke="#33ee33" stroke-width="1.6" shape-rendering="crispEdges"/>
<path d="M332.6 885.8 L399 896.7 L405 900.6 L407 902.6" fill="none" stroke="#000" stroke-width="1" shape-rendering="crispEdges"/>
<path d="M459.1 247.1 C461.1 247.4 467.0 248.4 471.0 249.1 C474.9 249.7 479.0 250.3 483.0 250.9 C487.1 251.5 491.1 252.1 495.1 252.6 C499.1 253.2 503.1 253.8 507.1 254.3 C511.1 254.9 515.1 255.4 519.1 255.9 C523.1 256.5 527.1 257.0 531.0 257.5 C535.0 258.1 539.0 258.6 543.0 259.1 C546.9 259.7 550.9 260.2 554.9 260.8 C558.8 261.3 562.8 261.9 566.7 262.5 C570.7 263.0 574.6 263.6 578.6 264.2 C582.5 264.8 586.5 265.4 590.4 266.1 C594.3 266.7 598.3 267.4 602.2 268.1 C606.1 268.7 610.0 269.5 614.0 270.2 C617.9 270.9 621.8 271.7 625.7 272.5 C629.6 273.3 633.6 274.1 637.5 275.0 C641.4 275.8 645.3 276.7 649.2 277.7 C653.1 278.6 657.0 279.6 660.9 280.6 C664.8 281.6 668.7 282.7 672.6 283.8 C676.5 284.9 680.4 286.1 684.3 287.3 C688.2 288.5 692.0 289.8 695.9 291.1 C699.8 292.5 703.6 293.8 707.4 295.3 C711.3 296.7 715.1 298.2 718.8 299.8 C722.6 301.4 726.3 303.0 730.0 304.7 C733.7 306.4 737.4 308.2 741.0 310.0 C744.6 311.9 748.2 313.8 751.7 315.8 C755.3 317.8 758.7 319.9 762.1 322.1 C765.5 324.2 768.9 326.5 772.2 328.8 C775.4 331.2 778.7 333.6 781.8 336.1 C784.9 338.6 788.0 341.2 791.0 343.9 C794.0 346.6 796.9 349.4 799.7 352.3 C802.4 355.2 805.1 358.2 807.7 361.2 C810.2 364.3 812.7 367.5 815.0 370.7 C817.2 373.9 819.3 377.2 821.3 380.6 C823.2 384.0 825.0 387.5 826.6 391.0 C828.2 394.6 829.6 398.2 830.9 401.8 C832.1 405.5 833.2 409.2 834.2 413.0 C835.2 416.7 836.0 420.6 836.6 424.4 C837.3 428.3 837.8 432.2 838.2 436.2 C838.6 440.1 838.9 444.1 839.1 448.1 C839.2 452.1 839.2 456.1 839.1 460.2 C839.1 464.2 838.8 468.3 838.5 472.3 C838.2 476.4 837.8 480.5 837.3 484.6 C836.8 488.7 836.2 492.8 835.5 496.8 C834.9 500.9 834.1 505.0 833.2 509.0 C832.4 513.1 831.5 517.1 830.5 521.2 C829.5 525.2 828.4 529.2 827.3 533.1 C826.2 537.1 825.0 541.0 823.8 544.9 C822.6 548.8 821.3 552.7 820.0 556.5 C818.6 560.3 817.2 564.1 815.8 567.8 C814.3 571.6 812.8 575.3 811.3 579.0 C809.7 582.6 808.1 586.3 806.4 589.9 C804.7 593.5 802.9 597.0 801.1 600.6 C799.3 604.1 797.4 607.6 795.5 611.0 C793.6 614.5 791.5 617.9 789.5 621.3 C787.4 624.7 785.3 628.0 783.1 631.3 C780.9 634.6 778.6 637.9 776.3 641.1 C773.9 644.3 771.5 647.5 769.1 650.6 C766.6 653.8 764.1 656.9 761.5 659.9 C758.9 663.0 756.2 666.0 753.5 668.9 C750.8 671.9 748.0 674.8 745.2 677.6 C742.4 680.5 739.5 683.2 736.5 686.0 C733.6 688.7 730.6 691.4 727.5 694.0 C724.5 696.6 721.4 699.2 718.2 701.7 C715.1 704.2 711.8 706.6 708.6 709.0 C705.3 711.4 702.0 713.7 698.7 716.0 C695.4 718.3 692.0 720.5 688.6 722.7 C685.2 724.8 681.8 727.0 678.3 729.1 C674.9 731.2 671.4 733.2 667.9 735.2 C664.4 737.3 660.9 739.2 657.3 741.2 C653.8 743.1 650.2 745.0 646.6 746.8 C643.1 748.6 639.5 750.4 635.8 752.1 C632.2 753.8 628.5 755.5 624.9 757.1 C621.2 758.7 617.5 760.2 613.8 761.7 C610.0 763.2 606.3 764.6 602.5 765.9 C598.8 767.2 595.0 768.5 591.2 769.7 C587.4 770.8 583.5 771.9 579.7 772.9 C575.8 774.0 571.9 774.9 568.0 775.8 C564.2 776.6 560.2 777.4 556.3 778.1 C552.4 778.9 548.4 779.5 544.5 780.1 C540.5 780.7 536.5 781.3 532.5 781.8 C528.6 782.3 524.6 782.8 520.5 783.2 C516.5 783.6 512.5 784.0 508.5 784.4 C504.5 784.8 500.5 785.1 496.4 785.5 C492.4 785.8 488.4 786.1 484.3 786.4 C480.3 786.8 476.3 787.1 472.3 787.4 C468.2 787.7 464.2 788.0 460.2 788.4 C456.2 788.7 452.1 789.0 448.1 789.4 C444.1 789.7 440.1 790.0 436.1 790.3 C432.1 790.7 428.1 790.9 424.1 791.2 C420.1 791.4 416.1 791.7 412.1 791.8 C408.1 792.0 404.1 792.1 400.1 792.2 C396.1 792.2 392.1 792.2 388.0 792.1 C384.0 792.0 380.0 791.8 376.0 791.6 C372.0 791.4 368.0 791.1 364.0 790.7 C360.0 790.3 356.0 789.9 352.1 789.4 C348.1 788.8 344.1 788.2 340.1 787.6 C336.2 786.9 332.2 786.2 328.3 785.4 C324.4 784.6 320.4 783.7 316.5 782.8 C312.6 781.9 308.7 780.9 304.9 779.8 C301.0 778.7 297.1 777.6 293.3 776.4 C289.5 775.2 285.6 773.9 281.8 772.6 C278.1 771.2 274.3 769.8 270.5 768.4 C266.8 766.9 263.1 765.4 259.4 763.8 C255.7 762.2 252.0 760.6 248.3 758.8 C244.7 757.1 241.1 755.4 237.5 753.5 C233.9 751.7 230.4 749.8 226.8 747.8 C223.3 745.9 219.8 743.9 216.4 741.8 C212.9 739.7 209.5 737.6 206.1 735.4 C202.7 733.2 199.4 731.0 196.0 728.7 C192.7 726.4 189.5 724.0 186.2 721.6 C183.0 719.2 179.8 716.8 176.7 714.3 C173.5 711.7 170.4 709.2 167.3 706.5 C164.3 703.9 161.3 701.2 158.3 698.5 C155.3 695.8 152.4 693.0 149.5 690.2 C146.7 687.3 143.8 684.5 141.1 681.5 C138.3 678.6 135.6 675.6 132.9 672.6 C130.2 669.6 127.6 666.5 125.1 663.4 C122.5 660.3 120.0 657.1 117.5 653.9 C115.1 650.7 112.7 647.4 110.4 644.1 C108.0 640.8 105.8 637.5 103.6 634.1 C101.4 630.7 99.2 627.3 97.1 623.9 C95.0 620.4 93.0 616.9 91.0 613.4 C89.1 609.9 87.2 606.3 85.4 602.7 C83.5 599.2 81.8 595.5 80.1 591.9 C78.4 588.3 76.8 584.6 75.2 580.9 C73.7 577.2 72.2 573.5 70.8 569.7 C69.4 566.0 68.0 562.2 66.8 558.4 C65.5 554.6 64.3 550.8 63.1 547.0 C62.0 543.2 60.9 539.3 59.9 535.4 C58.9 531.6 58.0 527.7 57.1 523.8 C56.2 519.9 55.4 516.0 54.7 512.0 C54.0 508.1 53.3 504.1 52.7 500.2 C52.1 496.2 51.6 492.2 51.1 488.2 C50.6 484.2 50.2 480.2 49.9 476.2 C49.6 472.2 49.3 468.2 49.1 464.2 C48.9 460.1 48.8 456.1 48.7 452.1 C48.6 448.0 48.6 444.0 48.7 439.9 C48.7 435.9 48.9 431.8 49.0 427.8 C49.2 423.7 49.5 419.7 49.8 415.6 C50.1 411.5 50.5 407.5 51.0 403.4 C51.5 399.4 52.0 395.4 52.6 391.4 C53.3 387.4 54.0 383.4 54.8 379.4 C55.6 375.5 56.5 371.5 57.6 367.6 C58.6 363.8 59.7 359.9 60.9 356.1 C62.2 352.3 63.5 348.5 65.0 344.9 C66.4 341.2 68.0 337.5 69.7 334.0 C71.5 330.4 73.3 326.9 75.3 323.4 C77.3 320.0 79.4 316.6 81.6 313.3 C83.8 310.1 86.1 306.8 88.5 303.7 C91.0 300.5 93.5 297.5 96.2 294.5 C98.8 291.5 101.5 288.6 104.4 285.7 C107.2 282.9 110.1 280.1 113.1 277.5 C116.1 274.8 119.2 272.2 122.4 269.7 C125.6 267.2 128.8 264.8 132.1 262.5 C135.4 260.2 138.8 257.9 142.2 255.8 C145.7 253.6 149.2 251.6 152.7 249.6 C156.3 247.7 159.9 245.8 163.5 244.0 C167.1 242.3 170.8 240.6 174.5 239.0 C178.3 237.5 182.0 236.0 185.8 234.6 C189.6 233.3 193.4 232.0 197.2 230.8 C201.0 229.7 204.9 228.6 208.8 227.7 C212.6 226.7 216.5 225.8 220.4 225.1 C224.4 224.3 228.3 223.6 232.2 223.0 C236.2 222.4 240.1 221.9 244.1 221.5 C248.1 221.1 252.0 220.7 256.0 220.5 C260.0 220.2 264.0 220.0 268.0 219.9 C272.1 219.8 276.1 219.7 280.1 219.8 C284.1 219.8 288.2 219.9 292.2 220.0 C296.2 220.1 300.3 220.4 304.3 220.6 C308.4 220.9 312.4 221.2 316.5 221.6 C320.5 221.9 324.6 222.4 328.6 222.8 C332.7 223.3 336.7 223.8 340.7 224.3 C344.8 224.9 348.8 225.5 352.8 226.1 C356.9 226.7 360.9 227.4 364.9 228.1 C368.9 228.8 372.9 229.5 376.9 230.2 C380.9 231.0 384.9 231.7 388.8 232.5 C392.8 233.3 396.8 234.1 400.7 234.9 C404.6 235.7 408.6 236.6 412.5 237.4 C416.4 238.3 420.3 239.1 424.1 240.0 C428.0 240.8 431.8 241.7 435.7 242.6 C439.5 243.4 443.2 244.4 447.1 245.1 C451.0 245.9 457.1 246.8 459.1 247.1" fill="none" stroke="#008000" stroke-width="2" stroke-linejoin="round" shape-rendering="crispEdges"/>
<path d="M91.4 299.1 C93.2 298.0 99.3 292.5 102.5 292.6 C105.7 292.6 108.4 296.6 110.6 299.5 C112.8 302.4 114.4 306.3 115.7 309.9 C117.1 313.5 118.0 317.4 118.8 321.3 C119.5 325.1 120.0 329.2 120.4 333.3 C120.8 337.3 120.9 341.5 121.2 345.6 C121.5 349.8 121.7 353.9 122.0 358.0 C122.2 362.2 122.5 366.3 122.8 370.4 C123.1 374.5 123.5 378.6 123.8 382.7 C124.2 386.8 124.5 390.9 124.9 395.0 C125.3 399.1 125.8 403.1 126.2 407.2 C126.7 411.3 127.1 415.3 127.7 419.4 C128.2 423.4 128.7 427.5 129.3 431.5 C129.9 435.5 130.5 439.6 131.1 443.6 C131.7 447.6 132.4 451.6 133.1 455.6 C133.8 459.6 134.6 463.6 135.4 467.6 C136.2 471.6 137.0 475.5 137.8 479.5 C138.7 483.5 139.6 487.4 140.6 491.3 C141.5 495.3 142.5 499.2 143.5 503.1 C144.6 507.1 145.7 511.0 146.8 514.9 C147.9 518.8 149.1 522.7 150.3 526.6 C151.6 530.5 152.8 534.3 154.2 538.2 C155.5 542.0 156.9 545.9 158.3 549.7 C159.7 553.5 161.2 557.3 162.7 561.1 C164.2 564.9 165.8 568.7 167.4 572.4 C169.1 576.1 170.7 579.9 172.5 583.6 C174.2 587.2 176.0 590.9 177.8 594.5 C179.7 598.2 181.6 601.8 183.5 605.4 C185.5 609.0 187.5 612.5 189.5 616.0 C191.6 619.5 193.7 623.0 195.9 626.5 C198.0 629.9 200.3 633.3 202.6 636.7 C204.8 640.0 207.2 643.4 209.6 646.7 C212.0 650.0 214.4 653.2 217.0 656.4 C219.5 659.6 222.0 662.8 224.7 665.9 C227.3 669.0 230.0 672.1 232.7 675.1 C235.5 678.1 238.3 681.1 241.1 684.0 C244.0 686.9 246.9 689.8 249.8 692.6 C252.8 695.4 255.8 698.2 258.8 700.9 C261.9 703.6 265.0 706.3 268.1 708.9 C271.3 711.5 274.5 714.1 277.7 716.6 C280.9 719.1 284.2 721.5 287.5 723.9 C290.8 726.2 294.2 728.6 297.6 730.8 C301.0 733.1 304.5 735.3 307.9 737.4 C311.4 739.5 314.9 741.6 318.5 743.6 C322.1 745.6 325.6 747.5 329.3 749.4 C332.9 751.2 336.6 753.0 340.3 754.8 C343.9 756.5 347.7 758.2 351.4 759.7 C355.2 761.3 359.0 762.8 362.8 764.3 C366.6 765.7 370.4 767.1 374.3 768.4 C378.2 769.7 382.1 770.9 386.0 772.0 C389.9 773.2 393.8 774.2 397.8 775.2 C401.8 776.2 405.8 777.1 409.8 777.9 C413.7 778.7 417.8 779.4 421.8 780.0 C425.8 780.7 429.9 781.2 433.9 781.6 C437.9 782.0 442.0 782.3 446.0 782.4 C450.0 782.6 454.1 782.7 458.1 782.6 C462.1 782.5 466.1 782.3 470.1 781.9 C474.1 781.5 478.1 781.0 482.1 780.4 C486.1 779.7 490.0 778.9 493.9 778.0 C497.9 777.1 501.8 776.0 505.6 774.8 C509.5 773.6 513.4 772.3 517.2 770.9 C521.0 769.4 524.8 767.9 528.6 766.3 C532.3 764.7 536.1 762.9 539.8 761.1 C543.5 759.3 547.1 757.4 550.8 755.5 C554.4 753.5 558.0 751.5 561.6 749.4 C565.1 747.4 568.7 745.2 572.2 743.1 C575.6 740.9 579.1 738.6 582.5 736.3 C585.9 734.0 589.3 731.7 592.6 729.3 C595.9 726.9 599.2 724.5 602.4 722.0 C605.7 719.5 608.8 716.9 612.0 714.3 C615.1 711.7 618.2 709.1 621.3 706.4 C624.3 703.7 627.3 700.9 630.3 698.1 C633.2 695.3 636.1 692.5 639.0 689.6 C641.8 686.7 644.6 683.8 647.3 680.8 C650.1 677.8 652.8 674.8 655.4 671.7 C658.0 668.6 660.6 665.5 663.1 662.4 C665.7 659.2 668.1 656.0 670.5 652.7 C672.9 649.5 675.3 646.2 677.6 642.9 C679.9 639.5 682.1 636.2 684.3 632.7 C686.5 629.3 688.6 625.9 690.7 622.4 C692.7 618.9 694.8 615.4 696.7 611.9 C698.7 608.3 700.7 604.8 702.5 601.1 C704.4 597.5 706.3 593.9 708.0 590.2 C709.8 586.6 711.6 582.9 713.3 579.2 C715.0 575.5 716.7 571.7 718.3 568.0 C719.9 564.2 721.5 560.4 723.0 556.6 C724.6 552.8 726.1 549.0 727.6 545.2 C729.0 541.4 730.5 537.5 731.9 533.6 C733.3 529.8 734.7 525.9 736.0 522.0 C737.3 518.1 738.6 514.2 739.9 510.3 C741.2 506.4 742.5 502.5 743.7 498.6 C744.9 494.7 746.1 490.8 747.3 486.8 C748.5 482.9 749.6 479.0 750.7 475.1 C751.9 471.1 753.0 467.2 754.0 463.3 C755.1 459.4 756.2 455.4 757.2 451.5 C758.3 447.6 759.3 443.7 760.4 439.8 C761.4 435.9 762.4 432.0 763.5 428.1 C764.6 424.2 765.7 420.3 766.8 416.4 C767.9 412.6 769.1 408.7 770.4 404.9 C771.6 401.0 772.9 397.1 774.3 393.3 C775.7 389.5 777.2 385.7 778.7 381.8 C780.3 378.0 781.8 374.0 783.8 370.5 C785.7 367.0 787.5 362.8 790.4 360.8 C793.3 358.9 797.7 358.0 801.5 358.7 C805.2 359.4 810.9 364.0 812.8 365.0" fill="none" stroke="#008000" stroke-width="2" stroke-linejoin="round" shape-rendering="crispEdges"/>
<path d="M90.6 302.4 C90.1 304.4 88.8 310.3 87.9 314.3 C87.1 318.2 86.1 322.2 85.3 326.2 C84.4 330.1 83.7 334.1 83.0 338.1 C82.3 342.1 81.7 346.2 81.1 350.2 C80.5 354.2 80.0 358.2 79.6 362.3 C79.2 366.3 78.8 370.4 78.6 374.4 C78.3 378.5 78.0 382.6 77.9 386.6 C77.7 390.7 77.6 394.8 77.6 398.8 C77.6 402.9 77.6 407.0 77.7 411.1 C77.8 415.1 78.0 419.2 78.2 423.3 C78.5 427.3 78.8 431.4 79.1 435.5 C79.5 439.5 79.9 443.6 80.4 447.7 C80.9 451.7 81.5 455.8 82.1 459.8 C82.7 463.8 83.4 467.9 84.1 471.9 C84.8 475.9 85.7 479.9 86.5 483.9 C87.4 487.9 88.3 491.9 89.3 495.9 C90.3 499.8 91.3 503.8 92.5 507.7 C93.6 511.7 94.7 515.6 96.0 519.5 C97.2 523.4 98.5 527.3 99.9 531.2 C101.2 535.0 102.6 538.9 104.1 542.7 C105.6 546.5 107.1 550.3 108.7 554.1 C110.3 557.9 112.0 561.6 113.7 565.4 C115.4 569.1 117.1 572.8 119.0 576.5 C120.8 580.1 122.7 583.8 124.6 587.4 C126.6 591.0 128.6 594.6 130.6 598.1 C132.7 601.7 134.8 605.2 137.0 608.7 C139.1 612.2 141.3 615.6 143.6 619.0 C145.9 622.4 148.2 625.8 150.6 629.2 C153.0 632.5 155.4 635.8 157.9 639.1 C160.3 642.3 162.9 645.6 165.4 648.7 C168.0 651.9 170.6 655.1 173.3 658.2 C176.0 661.3 178.7 664.3 181.5 667.3 C184.2 670.3 187.0 673.3 189.9 676.2 C192.8 679.2 195.7 682.0 198.6 684.9 C201.5 687.7 204.5 690.5 207.5 693.2 C210.6 695.9 213.6 698.6 216.8 701.2 C219.9 703.9 223.0 706.4 226.2 709.0 C229.4 711.5 232.6 714.0 235.9 716.4 C239.1 718.8 242.4 721.2 245.8 723.5 C249.1 725.8 252.5 728.0 255.9 730.2 C259.3 732.4 262.7 734.5 266.2 736.6 C269.7 738.6 273.2 740.7 276.7 742.6 C280.3 744.5 283.8 746.4 287.5 748.2 C291.1 750.1 294.7 751.8 298.3 753.5 C302.0 755.2 305.7 756.8 309.4 758.4 C313.1 759.9 316.9 761.4 320.6 762.8 C324.4 764.3 328.2 765.6 332.0 766.9 C335.9 768.2 339.7 769.4 343.6 770.5 C347.4 771.6 351.3 772.7 355.2 773.7 C359.2 774.7 363.1 775.6 367.0 776.5 C371.0 777.3 374.9 778.1 378.9 778.8 C382.9 779.5 386.9 780.2 390.9 780.7 C394.9 781.3 398.9 781.8 402.9 782.2 C407.0 782.6 411.0 783.0 415.0 783.2 C419.1 783.5 423.1 783.7 427.2 783.9 C431.2 784.0 435.3 784.1 439.3 784.0 C443.4 784.0 447.4 784.0 451.5 783.8 C455.5 783.6 459.6 783.4 463.6 783.1 C467.6 782.8 471.7 782.4 475.7 782.0 C479.8 781.5 483.8 781.0 487.8 780.4 C491.8 779.8 495.8 779.2 499.8 778.4 C503.8 777.7 507.8 776.9 511.8 776.0 C515.8 775.1 519.7 774.2 523.7 773.2 C527.6 772.2 531.5 771.1 535.4 769.9 C539.3 768.8 543.2 767.6 547.1 766.3 C551.0 765.0 554.8 763.6 558.6 762.2 C562.5 760.8 566.3 759.3 570.0 757.8 C573.8 756.2 577.6 754.6 581.3 753.0 C585.0 751.3 588.7 749.6 592.4 747.8 C596.1 746.0 599.7 744.1 603.3 742.2 C606.9 740.3 610.5 738.3 614.0 736.3 C617.6 734.2 621.1 732.2 624.5 730.0 C628.0 727.9 631.4 725.6 634.8 723.4 C638.2 721.1 641.6 718.8 644.9 716.4 C648.2 714.0 651.5 711.6 654.7 709.1 C658.0 706.6 661.2 704.1 664.3 701.5 C667.5 698.9 670.6 696.3 673.7 693.6 C676.8 690.9 679.8 688.2 682.8 685.4 C685.8 682.6 688.7 679.8 691.6 676.9 C694.5 674.0 697.4 671.1 700.2 668.1 C703.0 665.2 705.7 662.2 708.4 659.1 C711.1 656.1 713.8 653.0 716.4 649.8 C719.0 646.7 721.6 643.5 724.1 640.3 C726.6 637.1 729.1 633.8 731.5 630.5 C733.9 627.3 736.3 623.9 738.6 620.6 C740.9 617.2 743.2 613.8 745.4 610.4 C747.6 607.0 749.8 603.5 751.9 600.0 C754.0 596.5 756.1 593.0 758.1 589.4 C760.1 585.9 762.1 582.3 764.0 578.7 C765.9 575.0 767.7 571.4 769.5 567.7 C771.3 564.1 773.1 560.4 774.7 556.7 C776.4 552.9 778.1 549.2 779.6 545.4 C781.2 541.7 782.8 537.9 784.2 534.1 C785.7 530.3 787.1 526.4 788.5 522.6 C789.8 518.7 791.1 514.9 792.4 511.0 C793.6 507.1 794.8 503.2 796.0 499.3 C797.1 495.4 798.2 491.5 799.2 487.5 C800.2 483.6 801.2 479.6 802.1 475.6 C803.0 471.7 803.8 467.7 804.6 463.7 C805.4 459.7 806.1 455.7 806.8 451.7 C807.5 447.7 808.1 443.7 808.6 439.6 C809.2 435.6 809.7 431.6 810.1 427.6 C810.5 423.5 810.9 419.5 811.2 415.4 C811.5 411.4 811.7 407.4 811.9 403.3 C812.1 399.3 812.2 395.2 812.3 391.2 C812.4 387.1 812.2 383.1 812.3 379.0 C812.4 375.0 812.8 368.7 812.8 366.7" fill="none" stroke="#f5008a" stroke-width="2" stroke-linejoin="round" shape-rendering="crispEdges"/>
<path d="M79.8 359.9 C81.2 358.5 85.1 354.3 87.9 351.3 C90.7 348.3 93.7 344.9 96.6 341.9 C99.6 338.8 102.6 335.9 105.7 333.1 C108.9 330.3 112.0 327.6 115.3 325.0 C118.5 322.4 121.9 320.0 125.2 317.6 C128.6 315.3 132.0 313.0 135.5 310.9 C139.0 308.8 142.5 306.8 146.1 304.8 C149.7 302.9 153.3 301.1 157.0 299.4 C160.7 297.7 164.4 296.1 168.1 294.6 C171.9 293.1 175.7 291.7 179.5 290.4 C183.4 289.1 187.2 287.9 191.1 286.8 C195.0 285.7 198.9 284.7 202.9 283.8 C206.8 282.9 210.8 282.1 214.8 281.3 C218.8 280.6 222.8 279.9 226.8 279.3 C230.8 278.8 234.9 278.3 238.9 277.9 C243.0 277.5 247.0 277.2 251.1 276.9 C255.1 276.7 259.2 276.5 263.3 276.4 C267.4 276.3 271.4 276.3 275.5 276.3 C279.6 276.4 283.7 276.5 287.7 276.6 C291.8 276.8 295.9 277.0 300.0 277.3 C304.0 277.6 308.1 277.9 312.2 278.3 C316.3 278.7 320.4 279.2 324.4 279.6 C328.5 280.1 332.6 280.6 336.7 281.2 C340.7 281.8 344.8 282.4 348.9 283.0 C353.0 283.6 357.0 284.3 361.1 284.9 C365.2 285.6 369.3 286.3 373.3 287.0 C377.4 287.8 381.5 288.5 385.5 289.3 C389.6 290.0 393.7 290.8 397.7 291.5 C401.8 292.3 405.9 293.1 409.9 293.9 C414.0 294.6 418.0 295.4 422.1 296.2 C426.1 297.0 430.2 297.7 434.2 298.5 C438.3 299.2 442.3 300.0 446.3 300.7 C450.4 301.4 454.4 302.2 458.5 302.9 C462.5 303.6 466.5 304.3 470.6 305.0 C474.6 305.7 478.6 306.4 482.6 307.1 C486.7 307.8 490.7 308.5 494.7 309.2 C498.8 309.9 502.8 310.6 506.8 311.2 C510.8 311.9 514.9 312.6 518.9 313.3 C522.9 313.9 526.9 314.6 531.0 315.3 C535.0 316.0 539.0 316.6 543.1 317.3 C547.1 318.0 551.1 318.6 555.2 319.3 C559.2 320.0 563.3 320.7 567.3 321.4 C571.4 322.0 575.4 322.7 579.4 323.4 C583.5 324.1 587.5 324.8 591.6 325.5 C595.6 326.3 599.7 327.0 603.7 327.8 C607.7 328.5 611.7 329.3 615.8 330.1 C619.8 330.9 623.8 331.7 627.8 332.6 C631.8 333.5 635.8 334.3 639.8 335.3 C643.8 336.2 647.7 337.2 651.7 338.2 C655.6 339.2 659.6 340.2 663.5 341.3 C667.4 342.4 671.3 343.5 675.2 344.7 C679.1 345.9 682.9 347.2 686.8 348.5 C690.6 349.8 694.4 351.1 698.2 352.5 C702.0 354.0 705.8 355.4 709.5 357.0 C713.3 358.5 717.0 360.2 720.7 361.8 C724.3 363.5 728.0 365.3 731.6 367.1 C735.2 368.9 738.8 370.9 742.4 372.8 C745.9 374.8 749.4 376.9 752.9 379.0 C756.4 381.2 759.8 383.4 763.2 385.8 C766.6 388.1 769.9 390.5 773.2 393.0 C776.5 395.5 779.7 398.1 782.9 400.8 C786.1 403.5 789.3 406.3 792.4 409.1 C795.5 412.0 798.6 415.1 801.5 418.1 C804.3 421.1 808.2 425.6 809.5 427.1" fill="none" stroke="#00a8e8" stroke-width="2" stroke-linejoin="round" shape-rendering="crispEdges"/>
<path d="M78.7 428.6 C79.8 427.0 82.8 422.1 85.3 418.8 C87.9 415.5 91.0 412.1 93.9 408.9 C96.8 405.7 99.9 402.7 102.9 399.8 C106.0 396.9 109.2 394.2 112.4 391.5 C115.7 388.9 119.0 386.4 122.3 384.0 C125.7 381.6 129.1 379.4 132.5 377.2 C136.0 375.1 139.5 373.1 143.1 371.2 C146.6 369.3 150.3 367.5 153.9 365.8 C157.6 364.1 161.3 362.6 165.0 361.1 C168.7 359.7 172.5 358.3 176.3 357.1 C180.1 355.8 183.9 354.7 187.8 353.6 C191.7 352.6 195.6 351.6 199.5 350.8 C203.5 349.9 207.4 349.1 211.4 348.4 C215.4 347.7 219.4 347.1 223.5 346.6 C227.5 346.1 231.6 345.6 235.6 345.3 C239.7 344.9 243.8 344.6 247.9 344.4 C252.1 344.2 256.2 344.0 260.3 343.9 C264.5 343.8 268.6 343.8 272.8 343.8 C276.9 343.9 281.1 344.0 285.3 344.1 C289.5 344.2 293.6 344.4 297.8 344.7 C302.0 344.9 306.2 345.2 310.4 345.6 C314.6 345.9 318.8 346.3 322.9 346.7 C327.1 347.1 331.3 347.6 335.5 348.1 C339.6 348.6 343.8 349.1 347.9 349.6 C352.1 350.2 356.2 350.7 360.3 351.3 C364.5 351.9 368.6 352.6 372.7 353.2 C376.8 353.8 380.8 354.5 384.9 355.2 C389.0 355.8 393.0 356.5 397.1 357.2 C401.1 357.9 405.2 358.6 409.2 359.3 C413.2 360.0 417.3 360.8 421.3 361.5 C425.3 362.2 429.3 363.0 433.3 363.7 C437.3 364.5 441.3 365.2 445.3 365.9 C449.3 366.7 453.3 367.4 457.3 368.2 C461.4 368.9 465.4 369.6 469.4 370.4 C473.4 371.1 477.4 371.8 481.4 372.5 C485.4 373.3 489.5 374.0 493.5 374.7 C497.5 375.4 501.6 376.0 505.6 376.7 C509.7 377.4 513.7 378.0 517.8 378.7 C521.8 379.4 525.9 380.0 529.9 380.7 C534.0 381.3 538.1 382.0 542.1 382.7 C546.2 383.3 550.3 384.0 554.3 384.7 C558.4 385.4 562.5 386.1 566.6 386.8 C570.6 387.5 574.7 388.2 578.7 389.0 C582.8 389.7 586.9 390.5 590.9 391.3 C595.0 392.1 599.0 393.0 603.0 393.8 C607.1 394.7 611.1 395.6 615.1 396.5 C619.1 397.5 623.1 398.4 627.1 399.5 C631.1 400.5 635.1 401.5 639.1 402.6 C643.1 403.7 647.0 404.9 651.0 406.1 C654.9 407.3 658.9 408.6 662.7 409.9 C666.6 411.2 670.5 412.6 674.4 414.0 C678.2 415.4 682.1 416.9 685.9 418.5 C689.6 420.0 693.4 421.6 697.1 423.3 C700.9 425.0 704.6 426.7 708.2 428.5 C711.9 430.4 715.5 432.2 719.1 434.2 C722.7 436.2 726.2 438.2 729.7 440.3 C733.2 442.4 736.6 444.6 740.0 446.9 C743.4 449.2 746.8 451.6 750.1 454.0 C753.4 456.4 756.6 459.0 759.8 461.6 C763.0 464.2 766.1 466.9 769.1 469.8 C772.2 472.6 775.2 475.5 778.1 478.5 C781.1 481.5 784.0 484.6 786.7 487.8 C789.5 490.9 793.4 495.6 794.7 497.2" fill="none" stroke="#00a8e8" stroke-width="2" stroke-linejoin="round" shape-rendering="crispEdges"/>
<path d="M92.8 507.9 C93.8 506.2 96.5 501.0 98.8 497.5 C101.1 494.1 103.9 490.5 106.5 487.2 C109.2 483.9 112.1 480.7 115.0 477.7 C117.9 474.6 120.9 471.7 124.0 469.0 C127.1 466.2 130.3 463.6 133.6 461.1 C136.9 458.6 140.2 456.2 143.7 454.0 C147.1 451.7 150.6 449.6 154.2 447.6 C157.7 445.6 161.4 443.7 165.0 442.0 C168.7 440.3 172.4 438.6 176.2 437.1 C179.9 435.6 183.7 434.2 187.6 433.0 C191.4 431.7 195.3 430.5 199.2 429.5 C203.1 428.4 207.0 427.5 210.9 426.7 C214.9 425.8 218.9 425.1 222.9 424.4 C226.9 423.8 230.9 423.2 234.9 422.7 C239.0 422.2 243.0 421.9 247.1 421.5 C251.2 421.2 255.3 421.0 259.4 420.8 C263.5 420.7 267.7 420.6 271.8 420.6 C276.0 420.5 280.1 420.6 284.3 420.7 C288.4 420.8 292.6 420.9 296.8 421.1 C300.9 421.3 305.1 421.6 309.3 421.9 C313.5 422.2 317.6 422.5 321.8 422.9 C326.0 423.2 330.2 423.7 334.3 424.1 C338.5 424.5 342.7 425.0 346.8 425.5 C351.0 426.0 355.1 426.5 359.2 427.0 C363.4 427.5 367.5 428.1 371.6 428.6 C375.7 429.2 379.8 429.7 383.9 430.3 C388.0 430.9 392.1 431.5 396.1 432.1 C400.2 432.7 404.3 433.3 408.3 433.9 C412.4 434.5 416.4 435.1 420.5 435.8 C424.5 436.4 428.5 437.1 432.6 437.7 C436.6 438.4 440.6 439.1 444.6 439.7 C448.7 440.4 452.7 441.1 456.7 441.8 C460.7 442.5 464.7 443.2 468.7 444.0 C472.7 444.7 476.7 445.4 480.8 446.2 C484.8 446.9 488.8 447.6 492.8 448.4 C496.8 449.2 500.8 449.9 504.8 450.7 C508.9 451.5 512.9 452.3 516.9 453.1 C521.0 453.9 525.0 454.7 529.0 455.5 C533.1 456.3 537.1 457.1 541.2 457.9 C545.2 458.8 549.3 459.6 553.3 460.5 C557.4 461.3 561.4 462.2 565.5 463.1 C569.5 464.0 573.5 465.0 577.6 465.9 C581.6 466.9 585.6 467.9 589.7 468.9 C593.7 469.9 597.7 471.0 601.7 472.1 C605.7 473.2 609.6 474.3 613.6 475.5 C617.6 476.7 621.5 477.9 625.4 479.2 C629.3 480.4 633.2 481.8 637.1 483.1 C641.0 484.5 644.8 486.0 648.7 487.5 C652.5 489.0 656.3 490.5 660.0 492.1 C663.8 493.8 667.5 495.4 671.2 497.2 C674.9 499.0 678.6 500.8 682.2 502.7 C685.8 504.6 689.4 506.6 693.0 508.6 C696.5 510.7 700.0 512.8 703.5 515.0 C706.9 517.2 710.3 519.5 713.6 521.9 C717.0 524.2 720.3 526.7 723.5 529.2 C726.7 531.8 729.9 534.4 733.0 537.1 C736.0 539.9 739.1 542.7 742.0 545.6 C745.0 548.5 747.9 551.5 750.7 554.6 C753.5 557.7 756.3 560.8 758.8 564.1 C761.3 567.4 764.5 572.6 765.6 574.3" fill="none" stroke="#00a8e8" stroke-width="2" stroke-linejoin="round" shape-rendering="crispEdges"/>
<path d="M177.5 662.7 C178.2 660.8 179.9 654.8 181.7 651.1 C183.4 647.4 185.6 643.7 188.0 640.4 C190.4 637.0 193.2 633.8 196.1 630.8 C199.0 627.8 202.2 625.0 205.4 622.3 C208.7 619.7 212.2 617.2 215.6 614.9 C219.1 612.6 222.7 610.4 226.3 608.4 C229.9 606.4 233.6 604.6 237.3 602.9 C241.0 601.2 244.7 599.6 248.5 598.2 C252.2 596.8 256.0 595.5 259.9 594.4 C263.7 593.2 267.6 592.2 271.5 591.3 C275.3 590.4 279.3 589.6 283.2 588.9 C287.2 588.2 291.1 587.7 295.1 587.2 C299.1 586.8 303.2 586.4 307.2 586.1 C311.2 585.9 315.3 585.7 319.4 585.6 C323.5 585.5 327.6 585.5 331.7 585.6 C335.8 585.6 339.9 585.8 344.0 586.0 C348.2 586.2 352.3 586.5 356.5 586.8 C360.6 587.2 364.8 587.6 369.0 588.0 C373.1 588.5 377.3 589.0 381.5 589.5 C385.7 590.0 389.9 590.6 394.0 591.2 C398.2 591.8 402.4 592.5 406.6 593.1 C410.8 593.8 414.9 594.5 419.1 595.2 C423.3 595.9 427.4 596.6 431.6 597.3 C435.7 598.1 439.9 598.8 444.0 599.6 C448.2 600.3 452.3 601.1 456.4 601.9 C460.5 602.6 464.6 603.4 468.7 604.3 C472.8 605.1 476.8 606.0 480.9 606.9 C484.9 607.8 488.9 608.7 492.9 609.6 C496.9 610.6 500.9 611.6 504.9 612.7 C508.9 613.7 512.8 614.8 516.7 616.0 C520.6 617.1 524.5 618.3 528.4 619.6 C532.3 620.8 536.1 622.1 539.9 623.5 C543.7 624.9 547.5 626.3 551.2 627.8 C555.0 629.4 558.7 630.9 562.4 632.6 C566.1 634.3 569.7 636.0 573.3 637.8 C576.9 639.6 580.5 641.5 584.0 643.5 C587.6 645.5 591.1 647.6 594.5 649.7 C598.0 651.9 601.4 654.2 604.8 656.5 C608.2 658.9 611.5 661.4 614.8 663.9 C618.1 666.5 621.3 669.2 624.4 672.0 C627.5 674.8 630.5 677.7 633.3 680.8 C636.1 683.8 638.8 687.0 641.2 690.4 C643.6 693.7 645.9 697.2 647.7 700.9 C649.5 704.6 651.4 710.5 652.1 712.4" fill="none" stroke="#00a8e8" stroke-width="2" stroke-linejoin="round" shape-rendering="crispEdges"/>
<path d="M113.0 562.0 C113.8 560.1 116.0 554.4 118.1 550.9 C120.1 547.3 122.7 543.9 125.3 540.6 C127.8 537.3 130.6 534.2 133.4 531.2 C136.3 528.3 139.3 525.4 142.4 522.8 C145.5 520.1 148.7 517.5 152.1 515.1 C155.4 512.7 158.9 510.5 162.4 508.3 C165.9 506.2 169.5 504.2 173.2 502.3 C176.9 500.4 180.7 498.6 184.5 497.0 C188.3 495.4 192.2 493.8 196.0 492.4 C199.9 491.0 203.9 489.7 207.8 488.5 C211.8 487.4 215.7 486.3 219.7 485.3 C223.7 484.3 227.7 483.5 231.6 482.7 C235.6 481.9 239.6 481.2 243.6 480.7 C247.6 480.1 251.6 479.6 255.7 479.2 C259.7 478.7 263.7 478.4 267.7 478.2 C271.8 477.9 275.8 477.7 279.9 477.6 C283.9 477.5 288.0 477.5 292.0 477.5 C296.1 477.5 300.1 477.6 304.2 477.8 C308.3 477.9 312.3 478.1 316.4 478.4 C320.5 478.7 324.6 479.0 328.7 479.3 C332.8 479.7 336.9 480.1 341.0 480.5 C345.1 481.0 349.2 481.5 353.3 482.0 C357.4 482.5 361.5 483.0 365.6 483.6 C369.7 484.2 373.8 484.8 377.9 485.4 C382.0 486.0 386.2 486.7 390.3 487.3 C394.4 488.0 398.5 488.6 402.7 489.3 C406.8 490.0 410.9 490.7 415.0 491.3 C419.2 492.0 423.3 492.7 427.4 493.4 C431.5 494.0 435.7 494.7 439.8 495.4 C443.9 496.1 448.1 496.7 452.2 497.4 C456.3 498.0 460.4 498.7 464.6 499.4 C468.7 500.1 472.8 500.7 476.9 501.4 C481.0 502.1 485.1 502.8 489.2 503.5 C493.3 504.2 497.4 504.9 501.5 505.7 C505.6 506.4 509.7 507.2 513.7 508.0 C517.8 508.7 521.9 509.5 525.9 510.4 C529.9 511.2 534.0 512.1 538.0 512.9 C542.0 513.8 546.0 514.7 550.0 515.7 C554.0 516.6 558.0 517.6 561.9 518.7 C565.9 519.7 569.8 520.7 573.7 521.8 C577.7 522.9 581.6 524.1 585.4 525.3 C589.3 526.5 593.2 527.7 597.0 529.0 C600.9 530.3 604.7 531.6 608.5 533.0 C612.3 534.4 616.1 535.9 619.8 537.4 C623.6 538.9 627.3 540.5 631.0 542.1 C634.7 543.7 638.4 545.4 642.0 547.2 C645.7 549.0 649.3 550.8 652.9 552.7 C656.5 554.6 660.0 556.6 663.6 558.6 C667.1 560.7 670.6 562.8 674.1 565.0 C677.5 567.2 680.9 569.5 684.3 571.9 C687.6 574.3 691.0 576.7 694.2 579.3 C697.4 581.9 700.6 584.5 703.6 587.3 C706.7 590.0 709.7 592.9 712.6 595.9 C715.5 598.8 718.3 601.9 720.9 605.1 C723.6 608.3 726.2 611.6 728.6 615.0 C730.9 618.4 734.0 623.8 735.1 625.5" fill="none" stroke="#d00000" stroke-width="2" stroke-linejoin="round" shape-rendering="crispEdges"/>
<path d="M131.2 599.1 C132.0 597.2 134.2 591.4 136.0 587.7 C137.9 584.1 140.0 580.6 142.3 577.2 C144.6 573.9 147.1 570.7 149.8 567.6 C152.4 564.5 155.3 561.6 158.3 558.8 C161.3 556.0 164.4 553.3 167.7 550.8 C171.0 548.3 174.4 545.9 177.9 543.6 C181.4 541.4 185.0 539.3 188.7 537.3 C192.3 535.3 196.1 533.4 199.9 531.7 C203.7 530.0 207.6 528.4 211.5 526.9 C215.4 525.4 219.3 524.1 223.3 522.9 C227.2 521.7 231.2 520.6 235.1 519.6 C239.1 518.6 243.0 517.7 247.0 517.0 C251.0 516.2 254.9 515.6 258.9 515.0 C262.9 514.5 266.9 514.0 270.9 513.6 C274.9 513.3 278.9 513.0 282.9 512.8 C287.0 512.6 291.0 512.5 295.0 512.5 C299.0 512.4 303.1 512.4 307.1 512.5 C311.2 512.6 315.2 512.8 319.3 513.0 C323.3 513.2 327.4 513.5 331.4 513.8 C335.5 514.1 339.6 514.5 343.7 514.9 C347.7 515.3 351.8 515.7 355.9 516.2 C360.0 516.6 364.1 517.1 368.2 517.7 C372.3 518.2 376.4 518.7 380.5 519.3 C384.6 519.8 388.7 520.4 392.8 520.9 C396.9 521.5 401.0 522.1 405.2 522.7 C409.3 523.2 413.4 523.8 417.5 524.4 C421.7 525.0 425.8 525.6 429.9 526.2 C434.0 526.8 438.1 527.4 442.3 528.0 C446.4 528.7 450.5 529.3 454.6 530.0 C458.7 530.6 462.8 531.3 466.9 532.0 C471.0 532.7 475.1 533.4 479.2 534.2 C483.3 534.9 487.3 535.7 491.4 536.5 C495.5 537.3 499.5 538.1 503.6 539.0 C507.6 539.9 511.6 540.8 515.6 541.7 C519.6 542.6 523.6 543.6 527.6 544.6 C531.6 545.6 535.6 546.6 539.5 547.7 C543.5 548.8 547.4 549.9 551.3 551.1 C555.2 552.3 559.1 553.5 563.0 554.7 C566.8 556.0 570.7 557.3 574.5 558.7 C578.3 560.0 582.1 561.4 585.9 562.9 C589.7 564.4 593.4 565.9 597.2 567.5 C600.9 569.1 604.6 570.7 608.2 572.4 C611.9 574.1 615.5 575.9 619.1 577.7 C622.7 579.6 626.3 581.4 629.8 583.4 C633.4 585.4 636.9 587.4 640.4 589.5 C643.8 591.6 647.3 593.8 650.7 596.1 C654.1 598.3 657.5 600.6 660.8 603.0 C664.1 605.5 667.4 607.9 670.5 610.5 C673.7 613.1 676.8 615.8 679.8 618.6 C682.8 621.4 685.7 624.4 688.5 627.4 C691.2 630.5 693.9 633.6 696.3 636.9 C698.8 640.2 701.2 643.7 703.2 647.3 C705.2 650.9 707.7 656.6 708.6 658.5" fill="none" stroke="#d00000" stroke-width="2" stroke-linejoin="round" shape-rendering="crispEdges"/>
<path d="M113.0 562.0 L121.3 579.3 L131.2 599.1" fill="none" stroke="#d00000" stroke-width="2.6" stroke-linejoin="round" shape-rendering="crispEdges"/>
<path d="M735.1 625.5 L726.0 637.1 L716.1 649.5 L708.6 658.5" fill="none" stroke="#d00000" stroke-width="2.6" stroke-linejoin="round" shape-rendering="crispEdges"/>
<clipPath id="cx"><rect x="446" y="183" width="15.3" height="15"/></clipPath><g clip-path="url(#cx)" stroke="#008000" stroke-width="3.2" fill="none"><path d="M443.6 180.5 L463.6 200.5 M463.6 180.5 L443.6 200.5"/></g>
<g stroke="#008000" stroke-width="2" stroke-linecap="round" fill="none"><path d="M400.8 506.0 L425.2 506.0 M413.0 493.8 L413.0 518.2 M404.0 497.0 L422.0 515.0 M404.0 515.0 L422.0 497.0"/></g><circle cx="413.0" cy="506.0" r="5.8" fill="#008000"/>
<circle cx="453.0" cy="486.5" r="419.5" fill="none" stroke="#000" stroke-width="1" shape-rendering="crispEdges"/>
<g mask="url(#m)"><path d="M122.4 744.8 A419.5 419.5 0 0 0 783.6 744.8" fill="none" stroke="#fff" stroke-width="1" shape-rendering="crispEdges"/></g>
<rect x="15" y="49" width="877" height="877" fill="none" stroke="#000" stroke-width="4"/>
<g font-family="Liberation Sans, sans-serif" fill="#000" style="will-change:transform" opacity="0.999">
<text x="266.5" y="28.5" font-size="25.00" font-weight="normal" font-style="normal" text-anchor="start" xml:space="preserve" textLength="375.0" lengthAdjust="spacingAndGlyphs">www.EclipseWise.com/eclipse.html</text>
<text x="28.3" y="92.0" font-size="43.50" font-weight="bold" font-style="normal" text-anchor="start" xml:space="preserve" textLength="157.0" lengthAdjust="spacingAndGlyphs">Annular</text>
<text x="28.4" y="131.8" font-size="35.30" font-weight="normal" font-style="normal" text-anchor="start" xml:space="preserve" textLength="141.6" lengthAdjust="spacingAndGlyphs">Saros  61</text>
<text x="30.3" y="165.8" font-size="28.30" font-weight="normal" font-style="normal" text-anchor="start" xml:space="preserve" textLength="89.3" lengthAdjust="spacingAndGlyphs">A.Node</text>
<text x="625.2" y="92.7" font-size="43.50" font-weight="bold" font-style="normal" text-anchor="start" xml:space="preserve" textLength="253.3" lengthAdjust="spacingAndGlyphs">-0036 Nov 22</text>
<text x="728.8" y="131.8" font-size="35.30" font-weight="normal" font-style="normal" text-anchor="start" xml:space="preserve" textLength="139.5" lengthAdjust="spacingAndGlyphs">02:15 TD</text>
<text x="29.3" y="874.0" font-size="32.80" font-weight="normal" font-style="normal" text-anchor="start" xml:space="preserve" textLength="175.0" lengthAdjust="spacingAndGlyphs">&#916;T=  10883s</text>
<text x="28.8" y="908.8" font-size="32.80" font-weight="normal" font-style="normal" text-anchor="start" xml:space="preserve" textLength="217.6" lengthAdjust="spacingAndGlyphs">Gam. = -0.7358</text>
<text x="684.8" y="873.8" font-size="32.30" font-weight="normal" font-style="normal" text-anchor="start" xml:space="preserve" textLength="186.0" lengthAdjust="spacingAndGlyphs">Altitude = 42&#176;</text>
<text x="607.0" y="908.8" font-size="32.60" font-weight="normal" font-style="normal" text-anchor="start" xml:space="preserve" textLength="261.5" lengthAdjust="spacingAndGlyphs">Duration = 07m38s</text>
<text x="233.6" y="961.8" font-size="23.00" font-weight="bold" font-style="italic" text-anchor="start" xml:space="preserve" textLength="489.2" lengthAdjust="spacingAndGlyphs">EclipseWise.com Canon of Solar Eclipses</text>
<text x="323.8" y="988.0" font-size="19.50" font-weight="normal" font-style="normal" text-anchor="start" xml:space="preserve" textLength="228.4" lengthAdjust="spacingAndGlyphs">&#169;2014 by Fred Espenak</text>
</g>
</svg>
</body></html>
